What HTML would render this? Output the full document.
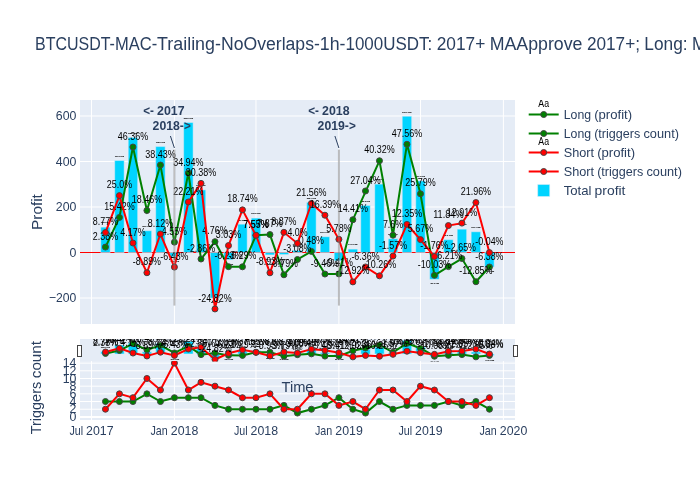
<!DOCTYPE html>
<html lang="en">
<head>
<meta charset="utf-8">
<title>BTCUSDT-MAC-Trailing-NoOverlaps-1h-1000USDT</title>
<style>
html,body{margin:0;padding:0;background:#fff;overflow:hidden}
svg{display:block;font-family:"Liberation Sans",sans-serif}
</style>
</head>
<body>
<svg width="700" height="500" viewBox="0 0 700 500" font-family="'Liberation Sans', sans-serif">
<defs>
<clipPath id="clipfb6a51xyplot">
<rect width="435" height="224"/>
</clipPath>
<clipPath id="clipfb6a51x2y2plot">
<rect width="435" height="58.879"/>
</clipPath>
<clipPath id="clipfb6a51x">
<rect x="80" y="0" width="435" height="500"/>
</clipPath>
<clipPath id="legendfb6a51">
<rect width="164" height="105" x="0" y="0"/>
</clipPath>
<clipPath id="rangesliderx-fb6a51">
<rect x="0" y="0" width="435" height="22.4"/>
</clipPath>
</defs>
<rect x="80" y="100" width="435" height="224" fill="#e5ecf6" stroke-width="0"/>
<rect x="80" y="361.12" width="435" height="58.879" fill="#e5ecf6" stroke-width="0"/>
<path transform="translate(91.49,0)" d="M0,100v224" stroke="#ffffff" stroke-width="1"/>
<path transform="translate(174.41,0)" d="M0,100v224" stroke="#ffffff" stroke-width="1"/>
<path transform="translate(255.98,0)" d="M0,100v224" stroke="#ffffff" stroke-width="1"/>
<path transform="translate(338.9,0)" d="M0,100v224" stroke="#ffffff" stroke-width="1"/>
<path transform="translate(420.47,0)" d="M0,100v224" stroke="#ffffff" stroke-width="1"/>
<path transform="translate(503.4,0)" d="M0,100v224" stroke="#ffffff" stroke-width="1"/>
<path transform="translate(0,298)" d="M80,0h435" stroke="#ffffff" stroke-width="1"/>
<path transform="translate(0,206.99)" d="M80,0h435" stroke="#ffffff" stroke-width="1"/>
<path transform="translate(0,161.49)" d="M80,0h435" stroke="#ffffff" stroke-width="1"/>
<path transform="translate(0,115.99)" d="M80,0h435" stroke="#ffffff" stroke-width="1"/>
<path transform="translate(0,252.5)" d="M80,0h435" stroke="#ff0000" stroke-width="1"/>
<g transform="translate(80,100)" clip-path="url(#clipfb6a51xyplot)">
<path d="M20.73,152.5V127.13H30.19V152.5Z" stroke-width="0.5" fill="#00d4ff" stroke="#e5ecf6"/>
<text x="-28.71" y="0" textLength="30.43" lengthAdjust="spacingAndGlyphs" font-size="12.84" fill="#000000" transform="translate(25.46,123.474)scale(0.163)" stroke="#000" stroke-width="0.5">111.5</text>
<text x="4.77" y="0" textLength="23.94" lengthAdjust="spacingAndGlyphs" font-size="12.84" fill="#000000" transform="translate(25.46,123.474)scale(0.163)" stroke="#000" stroke-width="0.5">USD</text>
<path d="M34.7,152.5V60.54H44.16V152.5Z" stroke-width="0.5" fill="#00d4ff" stroke="#e5ecf6"/>
<text x="-28.71" y="0" textLength="30.43" lengthAdjust="spacingAndGlyphs" font-size="12.84" fill="#000000" transform="translate(39.43,56.884)scale(0.163)" stroke="#000" stroke-width="0.5">404.2</text>
<text x="4.77" y="0" textLength="23.94" lengthAdjust="spacingAndGlyphs" font-size="12.84" fill="#000000" transform="translate(39.43,56.884)scale(0.163)" stroke="#000" stroke-width="0.5">USD</text>
<path d="M48.22,152.5V37.54H57.68V152.5Z" stroke-width="0.5" fill="#00d4ff" stroke="#e5ecf6"/>
<text x="-28.71" y="0" textLength="30.43" lengthAdjust="spacingAndGlyphs" font-size="12.84" fill="#000000" transform="translate(52.95,33.884)scale(0.163)" stroke="#000" stroke-width="0.5">505.3</text>
<text x="4.77" y="0" textLength="23.94" lengthAdjust="spacingAndGlyphs" font-size="12.84" fill="#000000" transform="translate(52.95,33.884)scale(0.163)" stroke="#000" stroke-width="0.5">USD</text>
<path d="M62.19,152.5V130.72H71.66V152.5Z" stroke-width="0.5" fill="#00d4ff" stroke="#e5ecf6"/>
<text x="-25.32" y="0" textLength="23.59" lengthAdjust="spacingAndGlyphs" font-size="12.84" fill="#000000" transform="translate(66.925,126.975)scale(0.186)" stroke="#000" stroke-width="0.5">95.7</text>
<text x="1.3" y="0" textLength="24.01" lengthAdjust="spacingAndGlyphs" font-size="12.84" fill="#000000" transform="translate(66.925,126.975)scale(0.186)" stroke="#000" stroke-width="0.5">USD</text>
<path d="M75.71,152.5V46.59H85.17V152.5Z" stroke-width="0.5" fill="#00d4ff" stroke="#e5ecf6"/>
<text x="-28.71" y="0" textLength="30.43" lengthAdjust="spacingAndGlyphs" font-size="12.84" fill="#000000" transform="translate(80.44,42.934)scale(0.163)" stroke="#000" stroke-width="0.5">465.5</text>
<text x="4.77" y="0" textLength="23.94" lengthAdjust="spacingAndGlyphs" font-size="12.84" fill="#000000" transform="translate(80.44,42.934)scale(0.163)" stroke="#000" stroke-width="0.5">USD</text>
<path d="M89.68,152.5V156.77H99.15V152.5Z" stroke-width="0.5" fill="#00d4ff" stroke="#e5ecf6"/>
<text x="-27.24" y="0" textLength="27.46" lengthAdjust="spacingAndGlyphs" font-size="12.84" fill="#000000" transform="translate(94.415,162.018)scale(0.172)" stroke="#000" stroke-width="0.5">-18.8</text>
<text x="3.21" y="0" textLength="24.03" lengthAdjust="spacingAndGlyphs" font-size="12.84" fill="#000000" transform="translate(94.415,162.018)scale(0.172)" stroke="#000" stroke-width="0.5">USD</text>
<path d="M103.65,152.5V22.48H113.12V152.5Z" stroke-width="0.5" fill="#00d4ff" stroke="#e5ecf6"/>
<text x="-28.68" y="0" textLength="30.4" lengthAdjust="spacingAndGlyphs" font-size="12.84" fill="#000000" transform="translate(108.385,18.824)scale(0.163)" stroke="#000" stroke-width="0.5">571.5</text>
<text x="4.76" y="0" textLength="23.92" lengthAdjust="spacingAndGlyphs" font-size="12.84" fill="#000000" transform="translate(108.385,18.824)scale(0.163)" stroke="#000" stroke-width="0.5">USD</text>
<path d="M116.27,152.5V89.89H125.73V152.5Z" stroke-width="0.5" fill="#00d4ff" stroke="#e5ecf6"/>
<text x="-28.71" y="0" textLength="30.43" lengthAdjust="spacingAndGlyphs" font-size="12.84" fill="#000000" transform="translate(121,86.234)scale(0.163)" stroke="#000" stroke-width="0.5">275.2</text>
<text x="4.77" y="0" textLength="23.94" lengthAdjust="spacingAndGlyphs" font-size="12.84" fill="#000000" transform="translate(121,86.234)scale(0.163)" stroke="#000" stroke-width="0.5">USD</text>
<path d="M130.24,152.5V198.13H139.7V152.5Z" stroke-width="0.5" fill="#00d4ff" stroke="#e5ecf6"/>
<text x="-30.59" y="0" textLength="34.2" lengthAdjust="spacingAndGlyphs" font-size="12.84" fill="#000000" transform="translate(134.97,203.125)scale(0.153)" stroke="#000" stroke-width="0.5">-200.6</text>
<text x="6.67" y="0" textLength="23.92" lengthAdjust="spacingAndGlyphs" font-size="12.84" fill="#000000" transform="translate(134.97,203.125)scale(0.153)" stroke="#000" stroke-width="0.5">USD</text>
<path d="M143.76,152.5V159.78H153.22V152.5Z" stroke-width="0.5" fill="#00d4ff" stroke="#e5ecf6"/>
<text x="-27.26" y="0" textLength="27.49" lengthAdjust="spacingAndGlyphs" font-size="12.84" fill="#000000" transform="translate(148.49,165.026)scale(0.172)" stroke="#000" stroke-width="0.5">-32.0</text>
<text x="3.21" y="0" textLength="24.05" lengthAdjust="spacingAndGlyphs" font-size="12.84" fill="#000000" transform="translate(148.49,165.026)scale(0.172)" stroke="#000" stroke-width="0.5">USD</text>
<path d="M157.73,152.5V124.17H167.2V152.5Z" stroke-width="0.5" fill="#00d4ff" stroke="#e5ecf6"/>
<text x="-28.68" y="0" textLength="30.4" lengthAdjust="spacingAndGlyphs" font-size="12.84" fill="#000000" transform="translate(162.464,120.514)scale(0.163)" stroke="#000" stroke-width="0.5">124.5</text>
<text x="4.76" y="0" textLength="23.92" lengthAdjust="spacingAndGlyphs" font-size="12.84" fill="#000000" transform="translate(162.464,120.514)scale(0.163)" stroke="#000" stroke-width="0.5">USD</text>
<path d="M171.25,152.5V118.1H180.71V152.5Z" stroke-width="0.5" fill="#00d4ff" stroke="#e5ecf6"/>
<text x="-28.71" y="0" textLength="30.43" lengthAdjust="spacingAndGlyphs" font-size="12.84" fill="#000000" transform="translate(175.98,114.444)scale(0.163)" stroke="#000" stroke-width="0.5">151.2</text>
<text x="4.77" y="0" textLength="23.94" lengthAdjust="spacingAndGlyphs" font-size="12.84" fill="#000000" transform="translate(175.98,114.444)scale(0.163)" stroke="#000" stroke-width="0.5">USD</text>
<path d="M185.22,152.5V154.91H194.69V152.5Z" stroke-width="0.5" fill="#00d4ff" stroke="#e5ecf6"/>
<text x="-27.24" y="0" textLength="27.46" lengthAdjust="spacingAndGlyphs" font-size="12.84" fill="#000000" transform="translate(189.954,160.158)scale(0.172)" stroke="#000" stroke-width="0.5">-10.6</text>
<text x="3.21" y="0" textLength="24.03" lengthAdjust="spacingAndGlyphs" font-size="12.84" fill="#000000" transform="translate(189.954,160.158)scale(0.172)" stroke="#000" stroke-width="0.5">USD</text>
<path d="M199.19,152.5V154.59H208.66V152.5Z" stroke-width="0.5" fill="#00d4ff" stroke="#e5ecf6"/>
<text x="-23.82" y="0" textLength="20.62" lengthAdjust="spacingAndGlyphs" font-size="12.84" fill="#000000" transform="translate(203.925,160.16)scale(0.197)" stroke="#000" stroke-width="0.5">-9.2</text>
<text x="-0.12" y="0" textLength="23.94" lengthAdjust="spacingAndGlyphs" font-size="12.84" fill="#000000" transform="translate(203.925,160.16)scale(0.197)" stroke="#000" stroke-width="0.5">USD</text>
<path d="M212.71,152.5V150.4H222.18V152.5Z" stroke-width="0.5" fill="#00d4ff" stroke="#e5ecf6"/>
<text x="-22.01" y="0" textLength="16.93" lengthAdjust="spacingAndGlyphs" font-size="12.84" fill="#000000" transform="translate(217.445,146.539)scale(0.215)" stroke="#000" stroke-width="0.5">9.2</text>
<text x="-2.11" y="0" textLength="24.12" lengthAdjust="spacingAndGlyphs" font-size="12.84" fill="#000000" transform="translate(217.445,146.539)scale(0.215)" stroke="#000" stroke-width="0.5">USD</text>
<path d="M226.68,152.5V102.35H236.15V152.5Z" stroke-width="0.5" fill="#00d4ff" stroke="#e5ecf6"/>
<text x="-28.68" y="0" textLength="30.4" lengthAdjust="spacingAndGlyphs" font-size="12.84" fill="#000000" transform="translate(231.415,98.694)scale(0.163)" stroke="#000" stroke-width="0.5">220.4</text>
<text x="4.76" y="0" textLength="23.92" lengthAdjust="spacingAndGlyphs" font-size="12.84" fill="#000000" transform="translate(231.415,98.694)scale(0.163)" stroke="#000" stroke-width="0.5">USD</text>
<path d="M240.2,152.5V136.73H249.67V152.5Z" stroke-width="0.5" fill="#00d4ff" stroke="#e5ecf6"/>
<text x="-25.32" y="0" textLength="23.59" lengthAdjust="spacingAndGlyphs" font-size="12.84" fill="#000000" transform="translate(244.935,132.985)scale(0.186)" stroke="#000" stroke-width="0.5">69.3</text>
<text x="1.3" y="0" textLength="24.01" lengthAdjust="spacingAndGlyphs" font-size="12.84" fill="#000000" transform="translate(244.935,132.985)scale(0.186)" stroke="#000" stroke-width="0.5">USD</text>
<path d="M254.17,152.5V160.75H263.64V152.5Z" stroke-width="0.5" fill="#00d4ff" stroke="#e5ecf6"/>
<text x="-27.24" y="0" textLength="27.46" lengthAdjust="spacingAndGlyphs" font-size="12.84" fill="#000000" transform="translate(258.905,165.998)scale(0.172)" stroke="#000" stroke-width="0.5">-36.3</text>
<text x="3.21" y="0" textLength="24.03" lengthAdjust="spacingAndGlyphs" font-size="12.84" fill="#000000" transform="translate(258.905,165.998)scale(0.172)" stroke="#000" stroke-width="0.5">USD</text>
<path d="M268.14,152.5V149.11H277.61V152.5Z" stroke-width="0.5" fill="#00d4ff" stroke="#e5ecf6"/>
<text x="-25.32" y="0" textLength="23.59" lengthAdjust="spacingAndGlyphs" font-size="12.84" fill="#000000" transform="translate(272.875,145.365)scale(0.186)" stroke="#000" stroke-width="0.5">14.9</text>
<text x="1.3" y="0" textLength="24.01" lengthAdjust="spacingAndGlyphs" font-size="12.84" fill="#000000" transform="translate(272.875,145.365)scale(0.186)" stroke="#000" stroke-width="0.5">USD</text>
<path d="M280.76,152.5V105.45H290.23V152.5Z" stroke-width="0.5" fill="#00d4ff" stroke="#e5ecf6"/>
<text x="-28.68" y="0" textLength="30.4" lengthAdjust="spacingAndGlyphs" font-size="12.84" fill="#000000" transform="translate(285.495,101.794)scale(0.163)" stroke="#000" stroke-width="0.5">206.8</text>
<text x="4.76" y="0" textLength="23.92" lengthAdjust="spacingAndGlyphs" font-size="12.84" fill="#000000" transform="translate(285.495,101.794)scale(0.163)" stroke="#000" stroke-width="0.5">USD</text>
<path d="M294.73,152.5V84.11H304.2V152.5Z" stroke-width="0.5" fill="#00d4ff" stroke="#e5ecf6"/>
<text x="-28.68" y="0" textLength="30.4" lengthAdjust="spacingAndGlyphs" font-size="12.84" fill="#000000" transform="translate(299.465,80.454)scale(0.163)" stroke="#000" stroke-width="0.5">300.6</text>
<text x="4.76" y="0" textLength="23.92" lengthAdjust="spacingAndGlyphs" font-size="12.84" fill="#000000" transform="translate(299.465,80.454)scale(0.163)" stroke="#000" stroke-width="0.5">USD</text>
<path d="M308.25,152.5V138.78H317.72V152.5Z" stroke-width="0.5" fill="#00d4ff" stroke="#e5ecf6"/>
<text x="-25.32" y="0" textLength="23.59" lengthAdjust="spacingAndGlyphs" font-size="12.84" fill="#000000" transform="translate(312.985,135.035)scale(0.186)" stroke="#000" stroke-width="0.5">60.3</text>
<text x="1.3" y="0" textLength="24.01" lengthAdjust="spacingAndGlyphs" font-size="12.84" fill="#000000" transform="translate(312.985,135.035)scale(0.186)" stroke="#000" stroke-width="0.5">USD</text>
<path d="M322.22,152.5V16.2H331.69V152.5Z" stroke-width="0.5" fill="#00d4ff" stroke="#e5ecf6"/>
<text x="-28.68" y="0" textLength="30.4" lengthAdjust="spacingAndGlyphs" font-size="12.84" fill="#000000" transform="translate(326.955,12.544)scale(0.163)" stroke="#000" stroke-width="0.5">599.1</text>
<text x="4.76" y="0" textLength="23.92" lengthAdjust="spacingAndGlyphs" font-size="12.84" fill="#000000" transform="translate(326.955,12.544)scale(0.163)" stroke="#000" stroke-width="0.5">USD</text>
<path d="M335.74,152.5V80.92H345.21V152.5Z" stroke-width="0.5" fill="#00d4ff" stroke="#e5ecf6"/>
<text x="-28.68" y="0" textLength="30.4" lengthAdjust="spacingAndGlyphs" font-size="12.84" fill="#000000" transform="translate(340.475,77.264)scale(0.163)" stroke="#000" stroke-width="0.5">314.6</text>
<text x="4.76" y="0" textLength="23.92" lengthAdjust="spacingAndGlyphs" font-size="12.84" fill="#000000" transform="translate(340.475,77.264)scale(0.163)" stroke="#000" stroke-width="0.5">USD</text>
<path d="M349.71,152.5V179.32H359.18V152.5Z" stroke-width="0.5" fill="#00d4ff" stroke="#e5ecf6"/>
<text x="-30.55" y="0" textLength="34.16" lengthAdjust="spacingAndGlyphs" font-size="12.84" fill="#000000" transform="translate(354.445,184.317)scale(0.153)" stroke="#000" stroke-width="0.5">-117.9</text>
<text x="6.66" y="0" textLength="23.89" lengthAdjust="spacingAndGlyphs" font-size="12.84" fill="#000000" transform="translate(354.445,184.317)scale(0.153)" stroke="#000" stroke-width="0.5">USD</text>
<path d="M363.68,152.5V139.69H373.15V152.5Z" stroke-width="0.5" fill="#00d4ff" stroke="#e5ecf6"/>
<text x="-25.32" y="0" textLength="23.59" lengthAdjust="spacingAndGlyphs" font-size="12.84" fill="#000000" transform="translate(368.414,135.945)scale(0.186)" stroke="#000" stroke-width="0.5">56.3</text>
<text x="1.3" y="0" textLength="24.01" lengthAdjust="spacingAndGlyphs" font-size="12.84" fill="#000000" transform="translate(368.414,135.945)scale(0.186)" stroke="#000" stroke-width="0.5">USD</text>
<path d="M377.2,152.5V129.15H386.67V152.5Z" stroke-width="0.5" fill="#00d4ff" stroke="#e5ecf6"/>
<text x="-28.68" y="0" textLength="30.4" lengthAdjust="spacingAndGlyphs" font-size="12.84" fill="#000000" transform="translate(381.935,125.494)scale(0.163)" stroke="#000" stroke-width="0.5">102.6</text>
<text x="4.76" y="0" textLength="23.92" lengthAdjust="spacingAndGlyphs" font-size="12.84" fill="#000000" transform="translate(381.935,125.494)scale(0.163)" stroke="#000" stroke-width="0.5">USD</text>
<path d="M391.17,152.5V131.77H400.64V152.5Z" stroke-width="0.5" fill="#00d4ff" stroke="#e5ecf6"/>
<text x="-25.32" y="0" textLength="23.59" lengthAdjust="spacingAndGlyphs" font-size="12.84" fill="#000000" transform="translate(395.905,128.025)scale(0.186)" stroke="#000" stroke-width="0.5">91.1</text>
<text x="1.3" y="0" textLength="24.01" lengthAdjust="spacingAndGlyphs" font-size="12.84" fill="#000000" transform="translate(395.905,128.025)scale(0.186)" stroke="#000" stroke-width="0.5">USD</text>
<path d="M404.69,152.5V167.1H414.16V152.5Z" stroke-width="0.5" fill="#00d4ff" stroke="#e5ecf6"/>
<text x="-27.24" y="0" textLength="27.46" lengthAdjust="spacingAndGlyphs" font-size="12.84" fill="#000000" transform="translate(409.425,172.348)scale(0.172)" stroke="#000" stroke-width="0.5">-64.2</text>
<text x="3.21" y="0" textLength="24.03" lengthAdjust="spacingAndGlyphs" font-size="12.84" fill="#000000" transform="translate(409.425,172.348)scale(0.172)" stroke="#000" stroke-width="0.5">USD</text>
<path d="M25.46,147.08L39.43,117.41L52.95,47.02L66.92,110.5L80.44,65.07L94.41,142.14L108.38,73.01L121,159L134.97,141.67L148.49,166.67L162.46,166.81L175.98,135.32L189.95,134.59L203.92,174.77L217.44,159.5L231.41,151.4L244.93,174.02L258.9,173.9L272.87,119.71L299.46,60.77L312.98,135.21L326.95,44.29L340.47,93.82L354.44,175.31L368.41,166.62L381.93,158.52L395.91,181.73L409.43,167.01" fill="none" stroke="#008000" stroke-width="2"/>
<path transform="translate(25.46,147.08)" d="M3,0A3,3 0 1,1 0,-3A3,3 0 0,1 3,0Z" stroke-width="1" fill="#008000" stroke="#444444"/>
<path transform="translate(39.43,117.41)" d="M3,0A3,3 0 1,1 0,-3A3,3 0 0,1 3,0Z" stroke-width="1" fill="#008000" stroke="#444444"/>
<path transform="translate(52.95,47.02)" d="M3,0A3,3 0 1,1 0,-3A3,3 0 0,1 3,0Z" stroke-width="1" fill="#008000" stroke="#444444"/>
<path transform="translate(66.92,110.5)" d="M3,0A3,3 0 1,1 0,-3A3,3 0 0,1 3,0Z" stroke-width="1" fill="#008000" stroke="#444444"/>
<path transform="translate(80.44,65.07)" d="M3,0A3,3 0 1,1 0,-3A3,3 0 0,1 3,0Z" stroke-width="1" fill="#008000" stroke="#444444"/>
<path transform="translate(94.41,142.14)" d="M3,0A3,3 0 1,1 0,-3A3,3 0 0,1 3,0Z" stroke-width="1" fill="#008000" stroke="#444444"/>
<path transform="translate(108.38,73.01)" d="M3,0A3,3 0 1,1 0,-3A3,3 0 0,1 3,0Z" stroke-width="1" fill="#008000" stroke="#444444"/>
<path transform="translate(121,159)" d="M3,0A3,3 0 1,1 0,-3A3,3 0 0,1 3,0Z" stroke-width="1" fill="#008000" stroke="#444444"/>
<path transform="translate(134.97,141.67)" d="M3,0A3,3 0 1,1 0,-3A3,3 0 0,1 3,0Z" stroke-width="1" fill="#008000" stroke="#444444"/>
<path transform="translate(148.49,166.67)" d="M3,0A3,3 0 1,1 0,-3A3,3 0 0,1 3,0Z" stroke-width="1" fill="#008000" stroke="#444444"/>
<path transform="translate(162.46,166.81)" d="M3,0A3,3 0 1,1 0,-3A3,3 0 0,1 3,0Z" stroke-width="1" fill="#008000" stroke="#444444"/>
<path transform="translate(175.98,135.32)" d="M3,0A3,3 0 1,1 0,-3A3,3 0 0,1 3,0Z" stroke-width="1" fill="#008000" stroke="#444444"/>
<path transform="translate(189.95,134.59)" d="M3,0A3,3 0 1,1 0,-3A3,3 0 0,1 3,0Z" stroke-width="1" fill="#008000" stroke="#444444"/>
<path transform="translate(203.92,174.77)" d="M3,0A3,3 0 1,1 0,-3A3,3 0 0,1 3,0Z" stroke-width="1" fill="#008000" stroke="#444444"/>
<path transform="translate(217.44,159.5)" d="M3,0A3,3 0 1,1 0,-3A3,3 0 0,1 3,0Z" stroke-width="1" fill="#008000" stroke="#444444"/>
<path transform="translate(231.41,151.4)" d="M3,0A3,3 0 1,1 0,-3A3,3 0 0,1 3,0Z" stroke-width="1" fill="#008000" stroke="#444444"/>
<path transform="translate(244.93,174.02)" d="M3,0A3,3 0 1,1 0,-3A3,3 0 0,1 3,0Z" stroke-width="1" fill="#008000" stroke="#444444"/>
<path transform="translate(258.9,173.9)" d="M3,0A3,3 0 1,1 0,-3A3,3 0 0,1 3,0Z" stroke-width="1" fill="#008000" stroke="#444444"/>
<path transform="translate(272.87,119.71)" d="M3,0A3,3 0 1,1 0,-3A3,3 0 0,1 3,0Z" stroke-width="1" fill="#008000" stroke="#444444"/>
<path transform="translate(285.49,90.98)" d="M3,0A3,3 0 1,1 0,-3A3,3 0 0,1 3,0Z" stroke-width="1" fill="#008000" stroke="#444444"/>
<path transform="translate(299.46,60.77)" d="M3,0A3,3 0 1,1 0,-3A3,3 0 0,1 3,0Z" stroke-width="1" fill="#008000" stroke="#444444"/>
<path transform="translate(312.98,135.21)" d="M3,0A3,3 0 1,1 0,-3A3,3 0 0,1 3,0Z" stroke-width="1" fill="#008000" stroke="#444444"/>
<path transform="translate(326.95,44.29)" d="M3,0A3,3 0 1,1 0,-3A3,3 0 0,1 3,0Z" stroke-width="1" fill="#008000" stroke="#444444"/>
<path transform="translate(340.47,93.82)" d="M3,0A3,3 0 1,1 0,-3A3,3 0 0,1 3,0Z" stroke-width="1" fill="#008000" stroke="#444444"/>
<path transform="translate(354.44,175.31)" d="M3,0A3,3 0 1,1 0,-3A3,3 0 0,1 3,0Z" stroke-width="1" fill="#008000" stroke="#444444"/>
<path transform="translate(368.41,166.62)" d="M3,0A3,3 0 1,1 0,-3A3,3 0 0,1 3,0Z" stroke-width="1" fill="#008000" stroke="#444444"/>
<path transform="translate(381.93,158.52)" d="M3,0A3,3 0 1,1 0,-3A3,3 0 0,1 3,0Z" stroke-width="1" fill="#008000" stroke="#444444"/>
<path transform="translate(395.91,181.73)" d="M3,0A3,3 0 1,1 0,-3A3,3 0 0,1 3,0Z" stroke-width="1" fill="#008000" stroke="#444444"/>
<path transform="translate(409.43,167.01)" d="M3,0A3,3 0 1,1 0,-3A3,3 0 0,1 3,0Z" stroke-width="1" fill="#008000" stroke="#444444"/>
<g transform="translate(0,-7)">
<text x="12.83" y="147" textLength="25.25" lengthAdjust="spacingAndGlyphs" font-size="9.99" fill="#000000">2.38%</text>
</g>
<g transform="translate(0,-7)">
<text x="24.23" y="117" textLength="30.39" lengthAdjust="spacingAndGlyphs" font-size="9.99" fill="#000000">15.42%</text>
</g>
<g transform="translate(0,-7)">
<text x="37.75" y="47" textLength="30.39" lengthAdjust="spacingAndGlyphs" font-size="9.99" fill="#000000">46.36%</text>
</g>
<g transform="translate(0,-7)">
<text x="51.72" y="110" textLength="30.39" lengthAdjust="spacingAndGlyphs" font-size="9.99" fill="#000000">18.46%</text>
</g>
<g transform="translate(0,-7)">
<text x="65.24" y="65" textLength="30.39" lengthAdjust="spacingAndGlyphs" font-size="9.99" fill="#000000">38.43%</text>
</g>
<g transform="translate(0,-7)">
<text x="81.79" y="142" textLength="25.25" lengthAdjust="spacingAndGlyphs" font-size="9.99" fill="#000000">4.55%</text>
</g>
<g transform="translate(0,-7)">
<text x="93.18" y="73" textLength="30.39" lengthAdjust="spacingAndGlyphs" font-size="9.99" fill="#000000">34.94%</text>
</g>
<g transform="translate(0,-7)">
<text x="106.93" y="159" textLength="28.14" lengthAdjust="spacingAndGlyphs" font-size="9.99" fill="#000000">-2.86%</text>
</g>
<g transform="translate(0,-7)">
<text x="122.35" y="141" textLength="25.25" lengthAdjust="spacingAndGlyphs" font-size="9.99" fill="#000000">4.76%</text>
</g>
<g transform="translate(0,-7)">
<text x="134.42" y="166" textLength="28.14" lengthAdjust="spacingAndGlyphs" font-size="9.99" fill="#000000">-6.23%</text>
</g>
<g transform="translate(0,-7)">
<text x="148.39" y="166" textLength="28.14" lengthAdjust="spacingAndGlyphs" font-size="9.99" fill="#000000">-6.29%</text>
</g>
<g transform="translate(0,-7)">
<text x="163.35" y="135" textLength="25.25" lengthAdjust="spacingAndGlyphs" font-size="9.99" fill="#000000">7.55%</text>
</g>
<g transform="translate(0,-7)">
<text x="177.32" y="134" textLength="25.25" lengthAdjust="spacingAndGlyphs" font-size="9.99" fill="#000000">7.87%</text>
</g>
<g transform="translate(0,-7)">
<text x="189.85" y="174" textLength="28.14" lengthAdjust="spacingAndGlyphs" font-size="9.99" fill="#000000">-9.79%</text>
</g>
<g transform="translate(0,-7)">
<text x="203.37" y="159" textLength="28.14" lengthAdjust="spacingAndGlyphs" font-size="9.99" fill="#000000">-3.08%</text>
</g>
<g transform="translate(0,-7)">
<text x="218.79" y="151" textLength="25.25" lengthAdjust="spacingAndGlyphs" font-size="9.99" fill="#000000">0.48%</text>
</g>
<g transform="translate(0,-7)">
<text x="230.86" y="174" textLength="28.14" lengthAdjust="spacingAndGlyphs" font-size="9.99" fill="#000000">-9.46%</text>
</g>
<g transform="translate(0,-7)">
<text x="244.83" y="173" textLength="28.14" lengthAdjust="spacingAndGlyphs" font-size="9.99" fill="#000000">-9.41%</text>
</g>
<g transform="translate(0,-7)">
<text x="257.67" y="119" textLength="30.39" lengthAdjust="spacingAndGlyphs" font-size="9.99" fill="#000000">14.41%</text>
</g>
<g transform="translate(0,-7)">
<text x="270.29" y="91" textLength="30.39" lengthAdjust="spacingAndGlyphs" font-size="9.99" fill="#000000">27.04%</text>
</g>
<g transform="translate(0,-7)">
<text x="284.26" y="60" textLength="30.39" lengthAdjust="spacingAndGlyphs" font-size="9.99" fill="#000000">40.32%</text>
</g>
<g transform="translate(0,-7)">
<text x="302.93" y="135" textLength="20.11" lengthAdjust="spacingAndGlyphs" font-size="9.99" fill="#000000">7.6%</text>
</g>
<g transform="translate(0,-7)">
<text x="311.75" y="44" textLength="30.39" lengthAdjust="spacingAndGlyphs" font-size="9.99" fill="#000000">47.56%</text>
</g>
<g transform="translate(0,-7)">
<text x="325.27" y="93" textLength="30.39" lengthAdjust="spacingAndGlyphs" font-size="9.99" fill="#000000">25.79%</text>
</g>
<g transform="translate(0,-7)">
<text x="337.79" y="175" textLength="33.3" lengthAdjust="spacingAndGlyphs" font-size="9.99" fill="#000000">-10.03%</text>
</g>
<g transform="translate(0,-7)">
<text x="354.34" y="166" textLength="28.14" lengthAdjust="spacingAndGlyphs" font-size="9.99" fill="#000000">-6.21%</text>
</g>
<g transform="translate(0,-7)">
<text x="367.86" y="158" textLength="28.14" lengthAdjust="spacingAndGlyphs" font-size="9.99" fill="#000000">-2.65%</text>
</g>
<g transform="translate(0,-7)">
<text x="379.26" y="181" textLength="33.3" lengthAdjust="spacingAndGlyphs" font-size="9.99" fill="#000000">-12.85%</text>
</g>
<g transform="translate(0,-7)">
<text x="395.36" y="167" textLength="28.14" lengthAdjust="spacingAndGlyphs" font-size="9.99" fill="#000000">-6.38%</text>
</g>
<path d="M25.46,132.54L39.43,95.62L52.95,143.01L66.92,172.72L80.44,134.02L94.41,167.12L108.38,101.97L121,83.38L134.97,208.96L148.49,145.6L162.46,109.86L175.98,135.27L189.95,172.81L203.92,132.32L217.44,143.4L231.41,103.45L244.93,115.21L258.9,139.35L272.87,181.89L285.49,166.96L299.46,175.84L312.98,156.07L326.95,124.4L340.47,139.6L354.44,156.5L368.41,125.56L381.93,123.12L395.91,102.54L409.43,152.59" fill="none" stroke="#ff0000" stroke-width="2"/>
<path transform="translate(25.46,132.54)" d="M3,0A3,3 0 1,1 0,-3A3,3 0 0,1 3,0Z" stroke-width="1" fill="#ff0000" stroke="#444444"/>
<path transform="translate(39.43,95.62)" d="M3,0A3,3 0 1,1 0,-3A3,3 0 0,1 3,0Z" stroke-width="1" fill="#ff0000" stroke="#444444"/>
<path transform="translate(52.95,143.01)" d="M3,0A3,3 0 1,1 0,-3A3,3 0 0,1 3,0Z" stroke-width="1" fill="#ff0000" stroke="#444444"/>
<path transform="translate(66.92,172.72)" d="M3,0A3,3 0 1,1 0,-3A3,3 0 0,1 3,0Z" stroke-width="1" fill="#ff0000" stroke="#444444"/>
<path transform="translate(80.44,134.02)" d="M3,0A3,3 0 1,1 0,-3A3,3 0 0,1 3,0Z" stroke-width="1" fill="#ff0000" stroke="#444444"/>
<path transform="translate(94.41,167.12)" d="M3,0A3,3 0 1,1 0,-3A3,3 0 0,1 3,0Z" stroke-width="1" fill="#ff0000" stroke="#444444"/>
<path transform="translate(108.38,101.97)" d="M3,0A3,3 0 1,1 0,-3A3,3 0 0,1 3,0Z" stroke-width="1" fill="#ff0000" stroke="#444444"/>
<path transform="translate(121,83.38)" d="M3,0A3,3 0 1,1 0,-3A3,3 0 0,1 3,0Z" stroke-width="1" fill="#ff0000" stroke="#444444"/>
<path transform="translate(134.97,208.96)" d="M3,0A3,3 0 1,1 0,-3A3,3 0 0,1 3,0Z" stroke-width="1" fill="#ff0000" stroke="#444444"/>
<path transform="translate(148.49,145.6)" d="M3,0A3,3 0 1,1 0,-3A3,3 0 0,1 3,0Z" stroke-width="1" fill="#ff0000" stroke="#444444"/>
<path transform="translate(162.46,109.86)" d="M3,0A3,3 0 1,1 0,-3A3,3 0 0,1 3,0Z" stroke-width="1" fill="#ff0000" stroke="#444444"/>
<path transform="translate(175.98,135.27)" d="M3,0A3,3 0 1,1 0,-3A3,3 0 0,1 3,0Z" stroke-width="1" fill="#ff0000" stroke="#444444"/>
<path transform="translate(189.95,172.81)" d="M3,0A3,3 0 1,1 0,-3A3,3 0 0,1 3,0Z" stroke-width="1" fill="#ff0000" stroke="#444444"/>
<path transform="translate(203.92,132.32)" d="M3,0A3,3 0 1,1 0,-3A3,3 0 0,1 3,0Z" stroke-width="1" fill="#ff0000" stroke="#444444"/>
<path transform="translate(217.44,143.4)" d="M3,0A3,3 0 1,1 0,-3A3,3 0 0,1 3,0Z" stroke-width="1" fill="#ff0000" stroke="#444444"/>
<path transform="translate(231.41,103.45)" d="M3,0A3,3 0 1,1 0,-3A3,3 0 0,1 3,0Z" stroke-width="1" fill="#ff0000" stroke="#444444"/>
<path transform="translate(244.93,115.21)" d="M3,0A3,3 0 1,1 0,-3A3,3 0 0,1 3,0Z" stroke-width="1" fill="#ff0000" stroke="#444444"/>
<path transform="translate(258.9,139.35)" d="M3,0A3,3 0 1,1 0,-3A3,3 0 0,1 3,0Z" stroke-width="1" fill="#ff0000" stroke="#444444"/>
<path transform="translate(272.87,181.89)" d="M3,0A3,3 0 1,1 0,-3A3,3 0 0,1 3,0Z" stroke-width="1" fill="#ff0000" stroke="#444444"/>
<path transform="translate(285.49,166.96)" d="M3,0A3,3 0 1,1 0,-3A3,3 0 0,1 3,0Z" stroke-width="1" fill="#ff0000" stroke="#444444"/>
<path transform="translate(299.46,175.84)" d="M3,0A3,3 0 1,1 0,-3A3,3 0 0,1 3,0Z" stroke-width="1" fill="#ff0000" stroke="#444444"/>
<path transform="translate(312.98,156.07)" d="M3,0A3,3 0 1,1 0,-3A3,3 0 0,1 3,0Z" stroke-width="1" fill="#ff0000" stroke="#444444"/>
<path transform="translate(326.95,124.4)" d="M3,0A3,3 0 1,1 0,-3A3,3 0 0,1 3,0Z" stroke-width="1" fill="#ff0000" stroke="#444444"/>
<path transform="translate(340.47,139.6)" d="M3,0A3,3 0 1,1 0,-3A3,3 0 0,1 3,0Z" stroke-width="1" fill="#ff0000" stroke="#444444"/>
<path transform="translate(354.44,156.5)" d="M3,0A3,3 0 1,1 0,-3A3,3 0 0,1 3,0Z" stroke-width="1" fill="#ff0000" stroke="#444444"/>
<path transform="translate(368.41,125.56)" d="M3,0A3,3 0 1,1 0,-3A3,3 0 0,1 3,0Z" stroke-width="1" fill="#ff0000" stroke="#444444"/>
<path transform="translate(381.93,123.12)" d="M3,0A3,3 0 1,1 0,-3A3,3 0 0,1 3,0Z" stroke-width="1" fill="#ff0000" stroke="#444444"/>
<path transform="translate(395.91,102.54)" d="M3,0A3,3 0 1,1 0,-3A3,3 0 0,1 3,0Z" stroke-width="1" fill="#ff0000" stroke="#444444"/>
<path transform="translate(409.43,152.59)" d="M3,0A3,3 0 1,1 0,-3A3,3 0 0,1 3,0Z" stroke-width="1" fill="#ff0000" stroke="#444444"/>
<g transform="translate(0,-7)">
<text x="12.83" y="132" textLength="25.25" lengthAdjust="spacingAndGlyphs" font-size="9.99" fill="#000000">8.77%</text>
</g>
<g transform="translate(0,-7)">
<text x="26.81" y="95" textLength="25.25" lengthAdjust="spacingAndGlyphs" font-size="9.99" fill="#000000">25.0%</text>
</g>
<g transform="translate(0,-7)">
<text x="40.33" y="143" textLength="25.25" lengthAdjust="spacingAndGlyphs" font-size="9.99" fill="#000000">4.17%</text>
</g>
<g transform="translate(0,-7)">
<text x="52.85" y="172" textLength="28.14" lengthAdjust="spacingAndGlyphs" font-size="9.99" fill="#000000">-8.89%</text>
</g>
<g transform="translate(0,-7)">
<text x="67.82" y="134" textLength="25.25" lengthAdjust="spacingAndGlyphs" font-size="9.99" fill="#000000">8.12%</text>
</g>
<g transform="translate(0,-7)">
<text x="80.34" y="167" textLength="28.14" lengthAdjust="spacingAndGlyphs" font-size="9.99" fill="#000000">-6.43%</text>
</g>
<g transform="translate(0,-7)">
<text x="93.18" y="102" textLength="30.39" lengthAdjust="spacingAndGlyphs" font-size="9.99" fill="#000000">22.21%</text>
</g>
<g transform="translate(0,-7)">
<text x="105.8" y="83" textLength="30.39" lengthAdjust="spacingAndGlyphs" font-size="9.99" fill="#000000">30.38%</text>
</g>
<g transform="translate(0,-7)">
<text x="118.32" y="209" textLength="33.3" lengthAdjust="spacingAndGlyphs" font-size="9.99" fill="#000000">-24.82%</text>
</g>
<g transform="translate(0,-7)">
<text x="135.87" y="145" textLength="25.25" lengthAdjust="spacingAndGlyphs" font-size="9.99" fill="#000000">3.03%</text>
</g>
<g transform="translate(0,-7)">
<text x="147.26" y="109" textLength="30.39" lengthAdjust="spacingAndGlyphs" font-size="9.99" fill="#000000">18.74%</text>
</g>
<g transform="translate(0,-7)">
<text x="163.35" y="135" textLength="25.25" lengthAdjust="spacingAndGlyphs" font-size="9.99" fill="#000000">7.57%</text>
</g>
<g transform="translate(0,-7)">
<text x="175.88" y="172" textLength="28.14" lengthAdjust="spacingAndGlyphs" font-size="9.99" fill="#000000">-8.93%</text>
</g>
<g transform="translate(0,-7)">
<text x="191.29" y="132" textLength="25.25" lengthAdjust="spacingAndGlyphs" font-size="9.99" fill="#000000">8.87%</text>
</g>
<g transform="translate(0,-7)">
<text x="207.39" y="143" textLength="20.11" lengthAdjust="spacingAndGlyphs" font-size="9.99" fill="#000000">4.0%</text>
</g>
<g transform="translate(0,-7)">
<text x="216.21" y="103" textLength="30.39" lengthAdjust="spacingAndGlyphs" font-size="9.99" fill="#000000">21.56%</text>
</g>
<g transform="translate(0,-7)">
<text x="229.73" y="115" textLength="30.39" lengthAdjust="spacingAndGlyphs" font-size="9.99" fill="#000000">16.39%</text>
</g>
<g transform="translate(0,-7)">
<text x="246.27" y="139" textLength="25.25" lengthAdjust="spacingAndGlyphs" font-size="9.99" fill="#000000">5.78%</text>
</g>
<g transform="translate(0,-7)">
<text x="256.22" y="181" textLength="33.3" lengthAdjust="spacingAndGlyphs" font-size="9.99" fill="#000000">-12.92%</text>
</g>
<g transform="translate(0,-7)">
<text x="271.42" y="167" textLength="28.14" lengthAdjust="spacingAndGlyphs" font-size="9.99" fill="#000000">-6.36%</text>
</g>
<g transform="translate(0,-7)">
<text x="282.81" y="175" textLength="33.3" lengthAdjust="spacingAndGlyphs" font-size="9.99" fill="#000000">-10.26%</text>
</g>
<g transform="translate(0,-7)">
<text x="298.91" y="156" textLength="28.14" lengthAdjust="spacingAndGlyphs" font-size="9.99" fill="#000000">-1.57%</text>
</g>
<g transform="translate(0,-7)">
<text x="311.75" y="124" textLength="30.39" lengthAdjust="spacingAndGlyphs" font-size="9.99" fill="#000000">12.35%</text>
</g>
<g transform="translate(0,-7)">
<text x="327.85" y="139" textLength="25.25" lengthAdjust="spacingAndGlyphs" font-size="9.99" fill="#000000">5.67%</text>
</g>
<g transform="translate(0,-7)">
<text x="340.37" y="156" textLength="28.14" lengthAdjust="spacingAndGlyphs" font-size="9.99" fill="#000000">-1.76%</text>
</g>
<g transform="translate(0,-7)">
<text x="353.21" y="125" textLength="30.39" lengthAdjust="spacingAndGlyphs" font-size="9.99" fill="#000000">11.84%</text>
</g>
<g transform="translate(0,-7)">
<text x="366.73" y="123" textLength="30.39" lengthAdjust="spacingAndGlyphs" font-size="9.99" fill="#000000">12.91%</text>
</g>
<g transform="translate(0,-7)">
<text x="380.71" y="102" textLength="30.39" lengthAdjust="spacingAndGlyphs" font-size="9.99" fill="#000000">21.96%</text>
</g>
<g transform="translate(0,-7)">
<text x="395.36" y="152" textLength="28.14" lengthAdjust="spacingAndGlyphs" font-size="9.99" fill="#000000">-0.04%</text>
</g>
</g>
<path d="M0,0" fill="none"/>
<path d="M0,0" fill="none"/>
<text x="48.95" y="4.2" textLength="27.45" lengthAdjust="spacingAndGlyphs" font-size="12.84" fill="#2a3f5f" transform="translate(0,298)">−200</text>
<text x="69.53" y="4.2" textLength="6.88" lengthAdjust="spacingAndGlyphs" font-size="12.84" fill="#2a3f5f" transform="translate(0,252.5)">0</text>
<text x="55.81" y="4.2" textLength="20.59" lengthAdjust="spacingAndGlyphs" font-size="12.84" fill="#2a3f5f" transform="translate(0,206.99)">200</text>
<text x="55.81" y="4.2" textLength="20.59" lengthAdjust="spacingAndGlyphs" font-size="12.84" fill="#2a3f5f" transform="translate(0,161.49)">400</text>
<text x="55.81" y="4.2" textLength="20.59" lengthAdjust="spacingAndGlyphs" font-size="12.84" fill="#2a3f5f" transform="translate(0,115.99)">600</text>
<path transform="translate(91.49,0)" d="M0,361.12v58.879" stroke="#ffffff" stroke-width="1"/>
<path transform="translate(174.41,0)" d="M0,361.12v58.879" stroke="#ffffff" stroke-width="1"/>
<path transform="translate(255.98,0)" d="M0,361.12v58.879" stroke="#ffffff" stroke-width="1"/>
<path transform="translate(338.9,0)" d="M0,361.12v58.879" stroke="#ffffff" stroke-width="1"/>
<path transform="translate(420.47,0)" d="M0,361.12v58.879" stroke="#ffffff" stroke-width="1"/>
<path transform="translate(503.4,0)" d="M0,361.12v58.879" stroke="#ffffff" stroke-width="1"/>
<path transform="translate(0,409.22)" d="M80,0h435" stroke="#ffffff" stroke-width="1"/>
<path transform="translate(0,401.53)" d="M80,0h435" stroke="#ffffff" stroke-width="1"/>
<path transform="translate(0,393.85)" d="M80,0h435" stroke="#ffffff" stroke-width="1"/>
<path transform="translate(0,386.17)" d="M80,0h435" stroke="#ffffff" stroke-width="1"/>
<path transform="translate(0,378.48)" d="M80,0h435" stroke="#ffffff" stroke-width="1"/>
<path transform="translate(0,370.8)" d="M80,0h435" stroke="#ffffff" stroke-width="1"/>
<path transform="translate(0,363.12)" d="M80,0h435" stroke="#ffffff" stroke-width="1"/>
<path transform="translate(0,416.9)" d="M80,0h435" stroke="#ffffff" stroke-width="2"/>
<g transform="translate(80,361.12)" clip-path="url(#clipfb6a51x2y2plot)">
<path d="M25.46,40.41L52.95,40.41L66.92,32.73L80.44,40.41L94.41,36.57L121,36.57L134.97,44.26L148.49,48.1L162.46,48.1L189.95,48.1L203.92,44.26L217.44,51.94L231.41,48.1L244.93,44.26L258.9,36.57L272.87,48.1L285.49,51.94L299.46,40.41L312.98,48.1L326.95,44.26L340.47,44.26L354.44,44.26L368.41,40.41L381.93,44.26L395.91,40.41L409.43,48.1" fill="none" stroke="#008000" stroke-width="2"/>
<path transform="translate(25.46,40.41)" d="M3,0A3,3 0 1,1 0,-3A3,3 0 0,1 3,0Z" stroke-width="1" fill="#008000" stroke="#444444"/>
<path transform="translate(39.43,40.41)" d="M3,0A3,3 0 1,1 0,-3A3,3 0 0,1 3,0Z" stroke-width="1" fill="#008000" stroke="#444444"/>
<path transform="translate(52.95,40.41)" d="M3,0A3,3 0 1,1 0,-3A3,3 0 0,1 3,0Z" stroke-width="1" fill="#008000" stroke="#444444"/>
<path transform="translate(66.92,32.73)" d="M3,0A3,3 0 1,1 0,-3A3,3 0 0,1 3,0Z" stroke-width="1" fill="#008000" stroke="#444444"/>
<path transform="translate(80.44,40.41)" d="M3,0A3,3 0 1,1 0,-3A3,3 0 0,1 3,0Z" stroke-width="1" fill="#008000" stroke="#444444"/>
<path transform="translate(94.41,36.57)" d="M3,0A3,3 0 1,1 0,-3A3,3 0 0,1 3,0Z" stroke-width="1" fill="#008000" stroke="#444444"/>
<path transform="translate(108.38,36.57)" d="M3,0A3,3 0 1,1 0,-3A3,3 0 0,1 3,0Z" stroke-width="1" fill="#008000" stroke="#444444"/>
<path transform="translate(121,36.57)" d="M3,0A3,3 0 1,1 0,-3A3,3 0 0,1 3,0Z" stroke-width="1" fill="#008000" stroke="#444444"/>
<path transform="translate(134.97,44.26)" d="M3,0A3,3 0 1,1 0,-3A3,3 0 0,1 3,0Z" stroke-width="1" fill="#008000" stroke="#444444"/>
<path transform="translate(148.49,48.1)" d="M3,0A3,3 0 1,1 0,-3A3,3 0 0,1 3,0Z" stroke-width="1" fill="#008000" stroke="#444444"/>
<path transform="translate(162.46,48.1)" d="M3,0A3,3 0 1,1 0,-3A3,3 0 0,1 3,0Z" stroke-width="1" fill="#008000" stroke="#444444"/>
<path transform="translate(175.98,48.1)" d="M3,0A3,3 0 1,1 0,-3A3,3 0 0,1 3,0Z" stroke-width="1" fill="#008000" stroke="#444444"/>
<path transform="translate(189.95,48.1)" d="M3,0A3,3 0 1,1 0,-3A3,3 0 0,1 3,0Z" stroke-width="1" fill="#008000" stroke="#444444"/>
<path transform="translate(203.92,44.26)" d="M3,0A3,3 0 1,1 0,-3A3,3 0 0,1 3,0Z" stroke-width="1" fill="#008000" stroke="#444444"/>
<path transform="translate(217.44,51.94)" d="M3,0A3,3 0 1,1 0,-3A3,3 0 0,1 3,0Z" stroke-width="1" fill="#008000" stroke="#444444"/>
<path transform="translate(231.41,48.1)" d="M3,0A3,3 0 1,1 0,-3A3,3 0 0,1 3,0Z" stroke-width="1" fill="#008000" stroke="#444444"/>
<path transform="translate(244.93,44.26)" d="M3,0A3,3 0 1,1 0,-3A3,3 0 0,1 3,0Z" stroke-width="1" fill="#008000" stroke="#444444"/>
<path transform="translate(258.9,36.57)" d="M3,0A3,3 0 1,1 0,-3A3,3 0 0,1 3,0Z" stroke-width="1" fill="#008000" stroke="#444444"/>
<path transform="translate(272.87,48.1)" d="M3,0A3,3 0 1,1 0,-3A3,3 0 0,1 3,0Z" stroke-width="1" fill="#008000" stroke="#444444"/>
<path transform="translate(285.49,51.94)" d="M3,0A3,3 0 1,1 0,-3A3,3 0 0,1 3,0Z" stroke-width="1" fill="#008000" stroke="#444444"/>
<path transform="translate(299.46,40.41)" d="M3,0A3,3 0 1,1 0,-3A3,3 0 0,1 3,0Z" stroke-width="1" fill="#008000" stroke="#444444"/>
<path transform="translate(312.98,48.1)" d="M3,0A3,3 0 1,1 0,-3A3,3 0 0,1 3,0Z" stroke-width="1" fill="#008000" stroke="#444444"/>
<path transform="translate(326.95,44.26)" d="M3,0A3,3 0 1,1 0,-3A3,3 0 0,1 3,0Z" stroke-width="1" fill="#008000" stroke="#444444"/>
<path transform="translate(340.47,44.26)" d="M3,0A3,3 0 1,1 0,-3A3,3 0 0,1 3,0Z" stroke-width="1" fill="#008000" stroke="#444444"/>
<path transform="translate(354.44,44.26)" d="M3,0A3,3 0 1,1 0,-3A3,3 0 0,1 3,0Z" stroke-width="1" fill="#008000" stroke="#444444"/>
<path transform="translate(368.41,40.41)" d="M3,0A3,3 0 1,1 0,-3A3,3 0 0,1 3,0Z" stroke-width="1" fill="#008000" stroke="#444444"/>
<path transform="translate(381.93,44.26)" d="M3,0A3,3 0 1,1 0,-3A3,3 0 0,1 3,0Z" stroke-width="1" fill="#008000" stroke="#444444"/>
<path transform="translate(395.91,40.41)" d="M3,0A3,3 0 1,1 0,-3A3,3 0 0,1 3,0Z" stroke-width="1" fill="#008000" stroke="#444444"/>
<path transform="translate(409.43,48.1)" d="M3,0A3,3 0 1,1 0,-3A3,3 0 0,1 3,0Z" stroke-width="1" fill="#008000" stroke="#444444"/>
<path d="M25.46,48.1L39.43,32.73L52.95,36.57L66.92,17.36L80.44,28.89L94.41,2L108.38,28.89L121,21.21L134.97,25.05L148.49,28.89L162.46,36.57L175.98,36.57L189.95,32.73L203.92,48.1L217.44,48.1L231.41,32.73L244.93,32.73L258.9,44.26L272.87,40.41L285.49,48.1L299.46,28.89L312.98,28.89L326.95,40.41L340.47,25.05L354.44,28.89L368.41,40.41L381.93,40.41L395.91,44.26L409.43,36.57" fill="none" stroke="#ff0000" stroke-width="2"/>
<path transform="translate(25.46,48.1)" d="M3,0A3,3 0 1,1 0,-3A3,3 0 0,1 3,0Z" stroke-width="1" fill="#ff0000" stroke="#444444"/>
<path transform="translate(39.43,32.73)" d="M3,0A3,3 0 1,1 0,-3A3,3 0 0,1 3,0Z" stroke-width="1" fill="#ff0000" stroke="#444444"/>
<path transform="translate(52.95,36.57)" d="M3,0A3,3 0 1,1 0,-3A3,3 0 0,1 3,0Z" stroke-width="1" fill="#ff0000" stroke="#444444"/>
<path transform="translate(66.92,17.36)" d="M3,0A3,3 0 1,1 0,-3A3,3 0 0,1 3,0Z" stroke-width="1" fill="#ff0000" stroke="#444444"/>
<path transform="translate(80.44,28.89)" d="M3,0A3,3 0 1,1 0,-3A3,3 0 0,1 3,0Z" stroke-width="1" fill="#ff0000" stroke="#444444"/>
<path transform="translate(94.41,2)" d="M3,0A3,3 0 1,1 0,-3A3,3 0 0,1 3,0Z" stroke-width="1" fill="#ff0000" stroke="#444444"/>
<path transform="translate(108.38,28.89)" d="M3,0A3,3 0 1,1 0,-3A3,3 0 0,1 3,0Z" stroke-width="1" fill="#ff0000" stroke="#444444"/>
<path transform="translate(121,21.21)" d="M3,0A3,3 0 1,1 0,-3A3,3 0 0,1 3,0Z" stroke-width="1" fill="#ff0000" stroke="#444444"/>
<path transform="translate(134.97,25.05)" d="M3,0A3,3 0 1,1 0,-3A3,3 0 0,1 3,0Z" stroke-width="1" fill="#ff0000" stroke="#444444"/>
<path transform="translate(148.49,28.89)" d="M3,0A3,3 0 1,1 0,-3A3,3 0 0,1 3,0Z" stroke-width="1" fill="#ff0000" stroke="#444444"/>
<path transform="translate(162.46,36.57)" d="M3,0A3,3 0 1,1 0,-3A3,3 0 0,1 3,0Z" stroke-width="1" fill="#ff0000" stroke="#444444"/>
<path transform="translate(175.98,36.57)" d="M3,0A3,3 0 1,1 0,-3A3,3 0 0,1 3,0Z" stroke-width="1" fill="#ff0000" stroke="#444444"/>
<path transform="translate(189.95,32.73)" d="M3,0A3,3 0 1,1 0,-3A3,3 0 0,1 3,0Z" stroke-width="1" fill="#ff0000" stroke="#444444"/>
<path transform="translate(203.92,48.1)" d="M3,0A3,3 0 1,1 0,-3A3,3 0 0,1 3,0Z" stroke-width="1" fill="#ff0000" stroke="#444444"/>
<path transform="translate(217.44,48.1)" d="M3,0A3,3 0 1,1 0,-3A3,3 0 0,1 3,0Z" stroke-width="1" fill="#ff0000" stroke="#444444"/>
<path transform="translate(231.41,32.73)" d="M3,0A3,3 0 1,1 0,-3A3,3 0 0,1 3,0Z" stroke-width="1" fill="#ff0000" stroke="#444444"/>
<path transform="translate(244.93,32.73)" d="M3,0A3,3 0 1,1 0,-3A3,3 0 0,1 3,0Z" stroke-width="1" fill="#ff0000" stroke="#444444"/>
<path transform="translate(258.9,44.26)" d="M3,0A3,3 0 1,1 0,-3A3,3 0 0,1 3,0Z" stroke-width="1" fill="#ff0000" stroke="#444444"/>
<path transform="translate(272.87,40.41)" d="M3,0A3,3 0 1,1 0,-3A3,3 0 0,1 3,0Z" stroke-width="1" fill="#ff0000" stroke="#444444"/>
<path transform="translate(285.49,48.1)" d="M3,0A3,3 0 1,1 0,-3A3,3 0 0,1 3,0Z" stroke-width="1" fill="#ff0000" stroke="#444444"/>
<path transform="translate(299.46,28.89)" d="M3,0A3,3 0 1,1 0,-3A3,3 0 0,1 3,0Z" stroke-width="1" fill="#ff0000" stroke="#444444"/>
<path transform="translate(312.98,28.89)" d="M3,0A3,3 0 1,1 0,-3A3,3 0 0,1 3,0Z" stroke-width="1" fill="#ff0000" stroke="#444444"/>
<path transform="translate(326.95,40.41)" d="M3,0A3,3 0 1,1 0,-3A3,3 0 0,1 3,0Z" stroke-width="1" fill="#ff0000" stroke="#444444"/>
<path transform="translate(340.47,25.05)" d="M3,0A3,3 0 1,1 0,-3A3,3 0 0,1 3,0Z" stroke-width="1" fill="#ff0000" stroke="#444444"/>
<path transform="translate(354.44,28.89)" d="M3,0A3,3 0 1,1 0,-3A3,3 0 0,1 3,0Z" stroke-width="1" fill="#ff0000" stroke="#444444"/>
<path transform="translate(368.41,40.41)" d="M3,0A3,3 0 1,1 0,-3A3,3 0 0,1 3,0Z" stroke-width="1" fill="#ff0000" stroke="#444444"/>
<path transform="translate(381.93,40.41)" d="M3,0A3,3 0 1,1 0,-3A3,3 0 0,1 3,0Z" stroke-width="1" fill="#ff0000" stroke="#444444"/>
<path transform="translate(395.91,44.26)" d="M3,0A3,3 0 1,1 0,-3A3,3 0 0,1 3,0Z" stroke-width="1" fill="#ff0000" stroke="#444444"/>
<path transform="translate(409.43,36.57)" d="M3,0A3,3 0 1,1 0,-3A3,3 0 0,1 3,0Z" stroke-width="1" fill="#ff0000" stroke="#444444"/>
</g>
<path d="M0,0" fill="none"/>
<path d="M0,0" fill="none"/>
<text x="-22.09" y="435" textLength="13.63" lengthAdjust="spacingAndGlyphs" font-size="12.84" fill="#2a3f5f" transform="translate(91.49,0)">Jul</text>
<text x="-5.38" y="435" textLength="27.47" lengthAdjust="spacingAndGlyphs" font-size="12.84" fill="#2a3f5f" transform="translate(91.49,0)">2017</text>
<text x="-23.91" y="435" textLength="17.25" lengthAdjust="spacingAndGlyphs" font-size="12.84" fill="#2a3f5f" transform="translate(174.41,0)">Jan</text>
<text x="-3.55" y="435" textLength="27.45" lengthAdjust="spacingAndGlyphs" font-size="12.84" fill="#2a3f5f" transform="translate(174.41,0)">2018</text>
<text x="-22.09" y="435" textLength="13.63" lengthAdjust="spacingAndGlyphs" font-size="12.84" fill="#2a3f5f" transform="translate(255.98,0)">Jul</text>
<text x="-5.38" y="435" textLength="27.47" lengthAdjust="spacingAndGlyphs" font-size="12.84" fill="#2a3f5f" transform="translate(255.98,0)">2018</text>
<text x="-23.91" y="435" textLength="17.25" lengthAdjust="spacingAndGlyphs" font-size="12.84" fill="#2a3f5f" transform="translate(338.9,0)">Jan</text>
<text x="-3.55" y="435" textLength="27.45" lengthAdjust="spacingAndGlyphs" font-size="12.84" fill="#2a3f5f" transform="translate(338.9,0)">2019</text>
<text x="-22.09" y="435" textLength="13.63" lengthAdjust="spacingAndGlyphs" font-size="12.84" fill="#2a3f5f" transform="translate(420.47,0)">Jul</text>
<text x="-5.38" y="435" textLength="27.47" lengthAdjust="spacingAndGlyphs" font-size="12.84" fill="#2a3f5f" transform="translate(420.47,0)">2019</text>
<text x="-23.91" y="435" textLength="17.25" lengthAdjust="spacingAndGlyphs" font-size="12.84" fill="#2a3f5f" transform="translate(503.4,0)">Jan</text>
<text x="-3.55" y="435" textLength="27.45" lengthAdjust="spacingAndGlyphs" font-size="12.84" fill="#2a3f5f" transform="translate(503.4,0)">2020</text>
<text x="69.53" y="4.2" textLength="6.88" lengthAdjust="spacingAndGlyphs" font-size="12.84" fill="#2a3f5f" transform="translate(0,416.9)">0</text>
<text x="69.53" y="4.2" textLength="6.88" lengthAdjust="spacingAndGlyphs" font-size="12.84" fill="#2a3f5f" transform="translate(0,409.22)">2</text>
<text x="69.53" y="4.2" textLength="6.88" lengthAdjust="spacingAndGlyphs" font-size="12.84" fill="#2a3f5f" transform="translate(0,401.53)">4</text>
<text x="69.53" y="4.2" textLength="6.88" lengthAdjust="spacingAndGlyphs" font-size="12.84" fill="#2a3f5f" transform="translate(0,393.85)">6</text>
<text x="69.53" y="4.2" textLength="6.88" lengthAdjust="spacingAndGlyphs" font-size="12.84" fill="#2a3f5f" transform="translate(0,386.17)">8</text>
<text x="62.67" y="4.2" textLength="13.73" lengthAdjust="spacingAndGlyphs" font-size="12.84" fill="#2a3f5f" transform="translate(0,378.48)">10</text>
<text x="62.67" y="4.2" textLength="13.73" lengthAdjust="spacingAndGlyphs" font-size="12.84" fill="#2a3f5f" transform="translate(0,370.8)">12</text>
<text x="62.67" y="4.2" textLength="13.73" lengthAdjust="spacingAndGlyphs" font-size="12.84" fill="#2a3f5f" transform="translate(0,363.12)">14</text>
<g clip-path="url(#clipfb6a51x)">
<path fill-rule="evenodd" d="M174.41,305.6L174.41,149.6" opacity="0.5" stroke="#808080" fill="#000000" fill-opacity="0" stroke-width="2"/>
</g>
<g clip-path="url(#clipfb6a51x)">
<path fill-rule="evenodd" d="M338.9,305.6L338.9,149.6" opacity="0.5" stroke="#808080" fill="#000000" fill-opacity="0" stroke-width="2"/>
</g>
<g transform="translate(523.7,100)">
<g clip-path="url(#legendfb6a51)">
<g transform="translate(0,14.5)">
<text x="40" y="4.5" textLength="27.36" lengthAdjust="spacingAndGlyphs" font-size="12.84" fill="#2a3f5f">Long</text>
<text x="70.47" y="4.5" textLength="37.91" lengthAdjust="spacingAndGlyphs" font-size="12.84" fill="#2a3f5f">(profit)</text>
<path d="M5,0h30" fill="none" stroke="#008000" stroke-width="2"/>
<path transform="translate(20,0)" d="M3,0A3,3 0 1,1 0,-3A3,3 0 0,1 3,0Z" stroke-width="1" fill="#008000" stroke="#444444"/>
<text x="14.65" y="-7.5" textLength="10.7" lengthAdjust="spacingAndGlyphs" font-size="9.99" fill="#000000">Aa</text>
</g>
<g transform="translate(0,33.5)">
<text x="40" y="4.5" textLength="27.36" lengthAdjust="spacingAndGlyphs" font-size="12.84" fill="#2a3f5f">Long</text>
<text x="70.47" y="4.5" textLength="46.16" lengthAdjust="spacingAndGlyphs" font-size="12.84" fill="#2a3f5f">(triggers</text>
<text x="119.73" y="4.5" textLength="35.52" lengthAdjust="spacingAndGlyphs" font-size="12.84" fill="#2a3f5f">count)</text>
<path d="M5,0h30" fill="none" stroke="#008000" stroke-width="2"/>
<path transform="translate(20,0)" d="M3,0A3,3 0 1,1 0,-3A3,3 0 0,1 3,0Z" stroke-width="1" fill="#008000" stroke="#444444"/>
</g>
<g transform="translate(0,52.5)">
<text x="40" y="4.5" textLength="30.34" lengthAdjust="spacingAndGlyphs" font-size="12.84" fill="#2a3f5f">Short</text>
<text x="73.45" y="4.5" textLength="37.89" lengthAdjust="spacingAndGlyphs" font-size="12.84" fill="#2a3f5f">(profit)</text>
<path d="M5,0h30" fill="none" stroke="#ff0000" stroke-width="2"/>
<path transform="translate(20,0)" d="M3,0A3,3 0 1,1 0,-3A3,3 0 0,1 3,0Z" stroke-width="1" fill="#ff0000" stroke="#444444"/>
<text x="14.65" y="-7.5" textLength="10.7" lengthAdjust="spacingAndGlyphs" font-size="9.99" fill="#000000">Aa</text>
</g>
<g transform="translate(0,71.5)">
<text x="40" y="4.5" textLength="30.34" lengthAdjust="spacingAndGlyphs" font-size="12.84" fill="#2a3f5f">Short</text>
<text x="73.45" y="4.5" textLength="46.16" lengthAdjust="spacingAndGlyphs" font-size="12.84" fill="#2a3f5f">(triggers</text>
<text x="122.7" y="4.5" textLength="35.52" lengthAdjust="spacingAndGlyphs" font-size="12.84" fill="#2a3f5f">count)</text>
<path d="M5,0h30" fill="none" stroke="#ff0000" stroke-width="2"/>
<path transform="translate(20,0)" d="M3,0A3,3 0 1,1 0,-3A3,3 0 0,1 3,0Z" stroke-width="1" fill="#ff0000" stroke="#444444"/>
</g>
<g transform="translate(0,90.5)">
<text x="40" y="4.5" textLength="27.81" lengthAdjust="spacingAndGlyphs" font-size="12.84" fill="#2a3f5f">Total</text>
<text x="70.91" y="4.5" textLength="30.83" lengthAdjust="spacingAndGlyphs" font-size="12.84" fill="#2a3f5f">profit</text>
<path d="M6,6H-6V-6H6Z" transform="translate(20,0)" stroke-width="0.5" fill="#00d4ff" stroke="#e5ecf6"/>
</g>
</g>
</g>
<text x="35" y="50" textLength="79.94" lengthAdjust="spacingAndGlyphs" font-size="17.65" fill="#2a3f5f">BTCUSDT-</text>
<text x="114.92" y="50" textLength="42.23" lengthAdjust="spacingAndGlyphs" font-size="17.65" fill="#2a3f5f">MAC-</text>
<text x="157.14" y="50" textLength="63.78" lengthAdjust="spacingAndGlyphs" font-size="17.65" fill="#2a3f5f">Trailing-</text>
<text x="220.91" y="50" textLength="98.95" lengthAdjust="spacingAndGlyphs" font-size="17.65" fill="#2a3f5f">NoOverlaps-</text>
<text x="319.84" y="50" textLength="25.64" lengthAdjust="spacingAndGlyphs" font-size="17.65" fill="#2a3f5f">1h-</text>
<text x="345.47" y="50" textLength="86.77" lengthAdjust="spacingAndGlyphs" font-size="17.65" fill="#2a3f5f">1000USDT:</text>
<text x="436.64" y="50" textLength="48.63" lengthAdjust="spacingAndGlyphs" font-size="17.65" fill="#2a3f5f">2017+</text>
<text x="489.66" y="50" textLength="92.83" lengthAdjust="spacingAndGlyphs" font-size="17.65" fill="#2a3f5f">MAApprove</text>
<text x="586.88" y="50" textLength="53.08" lengthAdjust="spacingAndGlyphs" font-size="17.65" fill="#2a3f5f">2017+;</text>
<text x="644.36" y="50" textLength="43.23" lengthAdjust="spacingAndGlyphs" font-size="17.65" fill="#2a3f5f">Long:</text>
<text x="692" y="50" textLength="54.91" lengthAdjust="spacingAndGlyphs" font-size="17.65" fill="#2a3f5f">MA(50,</text>
<text x="751.31" y="50" textLength="38.66" lengthAdjust="spacingAndGlyphs" font-size="17.65" fill="#2a3f5f">200);</text>
<text x="794.36" y="50" textLength="47.47" lengthAdjust="spacingAndGlyphs" font-size="17.65" fill="#2a3f5f">Short:</text>
<text x="846.23" y="50" textLength="54.91" lengthAdjust="spacingAndGlyphs" font-size="17.65" fill="#2a3f5f">MA(50,</text>
<text x="905.53" y="50" textLength="34.19" lengthAdjust="spacingAndGlyphs" font-size="17.65" fill="#2a3f5f">200)</text>
<text x="23.59" y="212" textLength="35.81" lengthAdjust="spacingAndGlyphs" font-size="14.53" fill="#2a3f5f" transform="rotate(-90,41.5,212)">Profit</text>
<text x="-5.18" y="387.6" textLength="52.44" lengthAdjust="spacingAndGlyphs" font-size="14.53" fill="#2a3f5f" transform="rotate(-90,41.5,387.6)">Triggers</text>
<text x="50.87" y="387.6" textLength="37.31" lengthAdjust="spacingAndGlyphs" font-size="14.53" fill="#2a3f5f" transform="rotate(-90,41.5,387.6)">count</text>
<g transform="rotate(0,164.41,118)">
<g transform="translate(135,100)">
<text x="8.23" y="15" textLength="10.73" lengthAdjust="spacingAndGlyphs" font-size="12.46" fill="#2a3f5f" font-weight="bold">&lt;-</text>
<text x="22.06" y="15" textLength="27.47" lengthAdjust="spacingAndGlyphs" font-size="12.46" fill="#2a3f5f" font-weight="bold">2017</text>
<text x="17.58" y="30" textLength="31.33" lengthAdjust="spacingAndGlyphs" font-size="12.46" fill="#2a3f5f" font-weight="bold">2018-</text>
<text x="48.89" y="30" textLength="6.88" lengthAdjust="spacingAndGlyphs" font-size="12.46" fill="#2a3f5f" font-weight="bold">&gt;</text>
</g>
</g>
<path d="M170.41,136L174.41,148" stroke-width="1" stroke="#2a3f5f"/>
<g transform="rotate(0,328.9,118)">
<g transform="translate(300,100)">
<text x="8.23" y="15" textLength="10.73" lengthAdjust="spacingAndGlyphs" font-size="12.46" fill="#2a3f5f" font-weight="bold">&lt;-</text>
<text x="22.06" y="15" textLength="27.47" lengthAdjust="spacingAndGlyphs" font-size="12.46" fill="#2a3f5f" font-weight="bold">2018</text>
<text x="17.58" y="30" textLength="31.33" lengthAdjust="spacingAndGlyphs" font-size="12.46" fill="#2a3f5f" font-weight="bold">2019-</text>
<text x="48.89" y="30" textLength="6.88" lengthAdjust="spacingAndGlyphs" font-size="12.46" fill="#2a3f5f" font-weight="bold">&gt;</text>
</g>
</g>
<path d="M334.9,136L338.9,148" stroke-width="1" stroke="#2a3f5f"/>
<g transform="translate(80,339)">
<rect x="0" y="0" shape-rendering="crispEdges" width="435" height="22.4" stroke-width="0" stroke="#444444" fill="#e5ecf6"/>
<g clip-path="url(#rangesliderx-fb6a51)">
<path d="M20.76,14.98V12.49H30.23V14.98Z" stroke-width="0.5" fill="#00d4ff" stroke="#e5ecf6"/>
<text x="-28.68" y="0" textLength="30.4" lengthAdjust="spacingAndGlyphs" font-size="12.84" fill="#000000" transform="translate(25.495,8.834)scale(0.163)" stroke="#000" stroke-width="0.5">111.5</text>
<text x="4.76" y="0" textLength="23.92" lengthAdjust="spacingAndGlyphs" font-size="12.84" fill="#000000" transform="translate(25.495,8.834)scale(0.163)" stroke="#000" stroke-width="0.5">USD</text>
<path d="M34.73,14.98V5.95H44.2V14.98Z" stroke-width="0.5" fill="#00d4ff" stroke="#e5ecf6"/>
<text x="-28.68" y="0" textLength="30.4" lengthAdjust="spacingAndGlyphs" font-size="12.84" fill="#000000" transform="translate(39.465,2.294)scale(0.163)" stroke="#000" stroke-width="0.5">404.2</text>
<text x="4.76" y="0" textLength="23.92" lengthAdjust="spacingAndGlyphs" font-size="12.84" fill="#000000" transform="translate(39.465,2.294)scale(0.163)" stroke="#000" stroke-width="0.5">USD</text>
<path d="M48.25,14.98V3.69H57.72V14.98Z" stroke-width="0.5" fill="#00d4ff" stroke="#e5ecf6"/>
<text x="-28.68" y="0" textLength="30.4" lengthAdjust="spacingAndGlyphs" font-size="12.84" fill="#000000" transform="translate(52.985,0.034)scale(0.163)" stroke="#000" stroke-width="0.5">505.3</text>
<text x="4.76" y="0" textLength="23.92" lengthAdjust="spacingAndGlyphs" font-size="12.84" fill="#000000" transform="translate(52.985,0.034)scale(0.163)" stroke="#000" stroke-width="0.5">USD</text>
<path d="M62.22,14.98V12.84H71.68V14.98Z" stroke-width="0.5" fill="#00d4ff" stroke="#e5ecf6"/>
<text x="-25.34" y="0" textLength="23.62" lengthAdjust="spacingAndGlyphs" font-size="12.84" fill="#000000" transform="translate(66.95,9.096)scale(0.185)" stroke="#000" stroke-width="0.5">95.7</text>
<text x="1.3" y="0" textLength="24.04" lengthAdjust="spacingAndGlyphs" font-size="12.84" fill="#000000" transform="translate(66.95,9.096)scale(0.185)" stroke="#000" stroke-width="0.5">USD</text>
<path d="M75.74,14.98V4.58H85.2V14.98Z" stroke-width="0.5" fill="#00d4ff" stroke="#e5ecf6"/>
<text x="-28.71" y="0" textLength="30.43" lengthAdjust="spacingAndGlyphs" font-size="12.84" fill="#000000" transform="translate(80.47,0.924)scale(0.163)" stroke="#000" stroke-width="0.5">465.5</text>
<text x="4.77" y="0" textLength="23.94" lengthAdjust="spacingAndGlyphs" font-size="12.84" fill="#000000" transform="translate(80.47,0.924)scale(0.163)" stroke="#000" stroke-width="0.5">USD</text>
<path d="M89.71,14.98V15.4H99.17V14.98Z" stroke-width="0.5" fill="#00d4ff" stroke="#e5ecf6"/>
<text x="-27.26" y="0" textLength="27.49" lengthAdjust="spacingAndGlyphs" font-size="12.84" fill="#000000" transform="translate(94.44,20.646)scale(0.172)" stroke="#000" stroke-width="0.5">-18.8</text>
<text x="3.21" y="0" textLength="24.05" lengthAdjust="spacingAndGlyphs" font-size="12.84" fill="#000000" transform="translate(94.44,20.646)scale(0.172)" stroke="#000" stroke-width="0.5">USD</text>
<path d="M103.68,14.98V2.21H113.14V14.98Z" stroke-width="0.5" fill="#00d4ff" stroke="#e5ecf6"/>
<text x="-28.71" y="0" textLength="30.43" lengthAdjust="spacingAndGlyphs" font-size="12.84" fill="#000000" transform="translate(108.41,-1.445)scale(0.163)" stroke="#000" stroke-width="0.5">571.5</text>
<text x="4.77" y="0" textLength="23.94" lengthAdjust="spacingAndGlyphs" font-size="12.84" fill="#000000" transform="translate(108.41,-1.445)scale(0.163)" stroke="#000" stroke-width="0.5">USD</text>
<path d="M116.3,14.98V8.83H125.76V14.98Z" stroke-width="0.5" fill="#00d4ff" stroke="#e5ecf6"/>
<text x="-28.71" y="0" textLength="30.43" lengthAdjust="spacingAndGlyphs" font-size="12.84" fill="#000000" transform="translate(121.03,5.174)scale(0.163)" stroke="#000" stroke-width="0.5">275.2</text>
<text x="4.77" y="0" textLength="23.94" lengthAdjust="spacingAndGlyphs" font-size="12.84" fill="#000000" transform="translate(121.03,5.174)scale(0.163)" stroke="#000" stroke-width="0.5">USD</text>
<path d="M130.27,14.98V19.46H139.73V14.98Z" stroke-width="0.5" fill="#00d4ff" stroke="#e5ecf6"/>
<text x="-30.59" y="0" textLength="34.2" lengthAdjust="spacingAndGlyphs" font-size="12.84" fill="#000000" transform="translate(135,24.455)scale(0.153)" stroke="#000" stroke-width="0.5">-200.6</text>
<text x="6.67" y="0" textLength="23.92" lengthAdjust="spacingAndGlyphs" font-size="12.84" fill="#000000" transform="translate(135,24.455)scale(0.153)" stroke="#000" stroke-width="0.5">USD</text>
<path d="M143.78,14.98V15.69H153.25V14.98Z" stroke-width="0.5" fill="#00d4ff" stroke="#e5ecf6"/>
<text x="-27.24" y="0" textLength="27.46" lengthAdjust="spacingAndGlyphs" font-size="12.84" fill="#000000" transform="translate(148.515,20.938)scale(0.172)" stroke="#000" stroke-width="0.5">-32.0</text>
<text x="3.21" y="0" textLength="24.03" lengthAdjust="spacingAndGlyphs" font-size="12.84" fill="#000000" transform="translate(148.515,20.938)scale(0.172)" stroke="#000" stroke-width="0.5">USD</text>
<path d="M157.75,14.98V12.2H167.22V14.98Z" stroke-width="0.5" fill="#00d4ff" stroke="#e5ecf6"/>
<text x="-28.68" y="0" textLength="30.4" lengthAdjust="spacingAndGlyphs" font-size="12.84" fill="#000000" transform="translate(162.485,8.544)scale(0.163)" stroke="#000" stroke-width="0.5">124.5</text>
<text x="4.76" y="0" textLength="23.92" lengthAdjust="spacingAndGlyphs" font-size="12.84" fill="#000000" transform="translate(162.485,8.544)scale(0.163)" stroke="#000" stroke-width="0.5">USD</text>
<path d="M171.27,14.98V11.6H180.74V14.98Z" stroke-width="0.5" fill="#00d4ff" stroke="#e5ecf6"/>
<text x="-28.68" y="0" textLength="30.4" lengthAdjust="spacingAndGlyphs" font-size="12.84" fill="#000000" transform="translate(176.005,7.944)scale(0.163)" stroke="#000" stroke-width="0.5">151.2</text>
<text x="4.76" y="0" textLength="23.92" lengthAdjust="spacingAndGlyphs" font-size="12.84" fill="#000000" transform="translate(176.005,7.944)scale(0.163)" stroke="#000" stroke-width="0.5">USD</text>
<path d="M185.24,14.98V15.21H194.7V14.98Z" stroke-width="0.5" fill="#00d4ff" stroke="#e5ecf6"/>
<text x="-27.26" y="0" textLength="27.49" lengthAdjust="spacingAndGlyphs" font-size="12.84" fill="#000000" transform="translate(189.97,20.456)scale(0.172)" stroke="#000" stroke-width="0.5">-10.6</text>
<text x="3.21" y="0" textLength="24.05" lengthAdjust="spacingAndGlyphs" font-size="12.84" fill="#000000" transform="translate(189.97,20.456)scale(0.172)" stroke="#000" stroke-width="0.5">USD</text>
<path d="M199.21,14.98V15.18H208.67V14.98Z" stroke-width="0.5" fill="#00d4ff" stroke="#e5ecf6"/>
<text x="-23.85" y="0" textLength="20.65" lengthAdjust="spacingAndGlyphs" font-size="12.84" fill="#000000" transform="translate(203.94,20.747)scale(0.197)" stroke="#000" stroke-width="0.5">-9.2</text>
<text x="-0.12" y="0" textLength="23.97" lengthAdjust="spacingAndGlyphs" font-size="12.84" fill="#000000" transform="translate(203.94,20.747)scale(0.197)" stroke="#000" stroke-width="0.5">USD</text>
<path d="M212.73,14.98V14.77H222.19V14.98Z" stroke-width="0.5" fill="#00d4ff" stroke="#e5ecf6"/>
<text x="-21.89" y="0" textLength="16.8" lengthAdjust="spacingAndGlyphs" font-size="12.84" fill="#000000" transform="translate(217.459,10.91)scale(0.214)" stroke="#000" stroke-width="0.5">9.2</text>
<text x="-2.04" y="0" textLength="23.93" lengthAdjust="spacingAndGlyphs" font-size="12.84" fill="#000000" transform="translate(217.459,10.91)scale(0.214)" stroke="#000" stroke-width="0.5">USD</text>
<path d="M226.7,14.98V10.05H236.16V14.98Z" stroke-width="0.5" fill="#00d4ff" stroke="#e5ecf6"/>
<text x="-28.71" y="0" textLength="30.43" lengthAdjust="spacingAndGlyphs" font-size="12.84" fill="#000000" transform="translate(231.43,6.394)scale(0.163)" stroke="#000" stroke-width="0.5">220.4</text>
<text x="4.77" y="0" textLength="23.94" lengthAdjust="spacingAndGlyphs" font-size="12.84" fill="#000000" transform="translate(231.43,6.394)scale(0.163)" stroke="#000" stroke-width="0.5">USD</text>
<path d="M240.22,14.98V13.43H249.68V14.98Z" stroke-width="0.5" fill="#00d4ff" stroke="#e5ecf6"/>
<text x="-25.34" y="0" textLength="23.62" lengthAdjust="spacingAndGlyphs" font-size="12.84" fill="#000000" transform="translate(244.95,9.686)scale(0.185)" stroke="#000" stroke-width="0.5">69.3</text>
<text x="1.3" y="0" textLength="24.04" lengthAdjust="spacingAndGlyphs" font-size="12.84" fill="#000000" transform="translate(244.95,9.686)scale(0.185)" stroke="#000" stroke-width="0.5">USD</text>
<path d="M254.19,14.98V15.79H263.65V14.98Z" stroke-width="0.5" fill="#00d4ff" stroke="#e5ecf6"/>
<text x="-27.26" y="0" textLength="27.49" lengthAdjust="spacingAndGlyphs" font-size="12.84" fill="#000000" transform="translate(258.919,21.036)scale(0.172)" stroke="#000" stroke-width="0.5">-36.3</text>
<text x="3.21" y="0" textLength="24.05" lengthAdjust="spacingAndGlyphs" font-size="12.84" fill="#000000" transform="translate(258.919,21.036)scale(0.172)" stroke="#000" stroke-width="0.5">USD</text>
<path d="M268.16,14.98V14.64H277.62V14.98Z" stroke-width="0.5" fill="#00d4ff" stroke="#e5ecf6"/>
<text x="-25.34" y="0" textLength="23.62" lengthAdjust="spacingAndGlyphs" font-size="12.84" fill="#000000" transform="translate(272.89,10.896)scale(0.185)" stroke="#000" stroke-width="0.5">14.9</text>
<text x="1.3" y="0" textLength="24.04" lengthAdjust="spacingAndGlyphs" font-size="12.84" fill="#000000" transform="translate(272.89,10.896)scale(0.185)" stroke="#000" stroke-width="0.5">USD</text>
<path d="M280.77,14.98V10.36H290.24V14.98Z" stroke-width="0.5" fill="#00d4ff" stroke="#e5ecf6"/>
<text x="-28.68" y="0" textLength="30.4" lengthAdjust="spacingAndGlyphs" font-size="12.84" fill="#000000" transform="translate(285.505,6.704)scale(0.163)" stroke="#000" stroke-width="0.5">206.8</text>
<text x="4.76" y="0" textLength="23.92" lengthAdjust="spacingAndGlyphs" font-size="12.84" fill="#000000" transform="translate(285.505,6.704)scale(0.163)" stroke="#000" stroke-width="0.5">USD</text>
<path d="M294.74,14.98V8.26H304.21V14.98Z" stroke-width="0.5" fill="#00d4ff" stroke="#e5ecf6"/>
<text x="-28.68" y="0" textLength="30.4" lengthAdjust="spacingAndGlyphs" font-size="12.84" fill="#000000" transform="translate(299.475,4.604)scale(0.163)" stroke="#000" stroke-width="0.5">300.6</text>
<text x="4.76" y="0" textLength="23.92" lengthAdjust="spacingAndGlyphs" font-size="12.84" fill="#000000" transform="translate(299.475,4.604)scale(0.163)" stroke="#000" stroke-width="0.5">USD</text>
<path d="M308.26,14.98V13.63H317.73V14.98Z" stroke-width="0.5" fill="#00d4ff" stroke="#e5ecf6"/>
<text x="-25.32" y="0" textLength="23.59" lengthAdjust="spacingAndGlyphs" font-size="12.84" fill="#000000" transform="translate(312.995,9.885)scale(0.186)" stroke="#000" stroke-width="0.5">60.3</text>
<text x="1.3" y="0" textLength="24.01" lengthAdjust="spacingAndGlyphs" font-size="12.84" fill="#000000" transform="translate(312.995,9.885)scale(0.186)" stroke="#000" stroke-width="0.5">USD</text>
<path d="M322.23,14.98V1.59H331.69V14.98Z" stroke-width="0.5" fill="#00d4ff" stroke="#e5ecf6"/>
<text x="-28.71" y="0" textLength="30.43" lengthAdjust="spacingAndGlyphs" font-size="12.84" fill="#000000" transform="translate(326.96,-2.065)scale(0.163)" stroke="#000" stroke-width="0.5">599.1</text>
<text x="4.77" y="0" textLength="23.94" lengthAdjust="spacingAndGlyphs" font-size="12.84" fill="#000000" transform="translate(326.96,-2.065)scale(0.163)" stroke="#000" stroke-width="0.5">USD</text>
<path d="M335.75,14.98V7.95H345.21V14.98Z" stroke-width="0.5" fill="#00d4ff" stroke="#e5ecf6"/>
<text x="-28.71" y="0" textLength="30.43" lengthAdjust="spacingAndGlyphs" font-size="12.84" fill="#000000" transform="translate(340.48,4.294)scale(0.163)" stroke="#000" stroke-width="0.5">314.6</text>
<text x="4.77" y="0" textLength="23.94" lengthAdjust="spacingAndGlyphs" font-size="12.84" fill="#000000" transform="translate(340.48,4.294)scale(0.163)" stroke="#000" stroke-width="0.5">USD</text>
<path d="M349.72,14.98V17.61H359.18V14.98Z" stroke-width="0.5" fill="#00d4ff" stroke="#e5ecf6"/>
<text x="-30.59" y="0" textLength="34.2" lengthAdjust="spacingAndGlyphs" font-size="12.84" fill="#000000" transform="translate(354.45,22.605)scale(0.153)" stroke="#000" stroke-width="0.5">-117.9</text>
<text x="6.67" y="0" textLength="23.92" lengthAdjust="spacingAndGlyphs" font-size="12.84" fill="#000000" transform="translate(354.45,22.605)scale(0.153)" stroke="#000" stroke-width="0.5">USD</text>
<path d="M363.69,14.98V13.72H373.15V14.98Z" stroke-width="0.5" fill="#00d4ff" stroke="#e5ecf6"/>
<text x="-25.34" y="0" textLength="23.62" lengthAdjust="spacingAndGlyphs" font-size="12.84" fill="#000000" transform="translate(368.419,9.976)scale(0.185)" stroke="#000" stroke-width="0.5">56.3</text>
<text x="1.3" y="0" textLength="24.04" lengthAdjust="spacingAndGlyphs" font-size="12.84" fill="#000000" transform="translate(368.419,9.976)scale(0.185)" stroke="#000" stroke-width="0.5">USD</text>
<path d="M377.21,14.98V12.68H386.67V14.98Z" stroke-width="0.5" fill="#00d4ff" stroke="#e5ecf6"/>
<text x="-28.71" y="0" textLength="30.43" lengthAdjust="spacingAndGlyphs" font-size="12.84" fill="#000000" transform="translate(381.94,9.024)scale(0.163)" stroke="#000" stroke-width="0.5">102.6</text>
<text x="4.77" y="0" textLength="23.94" lengthAdjust="spacingAndGlyphs" font-size="12.84" fill="#000000" transform="translate(381.94,9.024)scale(0.163)" stroke="#000" stroke-width="0.5">USD</text>
<path d="M391.18,14.98V12.94H400.64V14.98Z" stroke-width="0.5" fill="#00d4ff" stroke="#e5ecf6"/>
<text x="-25.34" y="0" textLength="23.62" lengthAdjust="spacingAndGlyphs" font-size="12.84" fill="#000000" transform="translate(395.909,9.196)scale(0.185)" stroke="#000" stroke-width="0.5">91.1</text>
<text x="1.3" y="0" textLength="24.04" lengthAdjust="spacingAndGlyphs" font-size="12.84" fill="#000000" transform="translate(395.909,9.196)scale(0.185)" stroke="#000" stroke-width="0.5">USD</text>
<path d="M404.7,14.98V16.41H414.16V14.98Z" stroke-width="0.5" fill="#00d4ff" stroke="#e5ecf6"/>
<text x="-27.26" y="0" textLength="27.49" lengthAdjust="spacingAndGlyphs" font-size="12.84" fill="#000000" transform="translate(409.43,21.656)scale(0.172)" stroke="#000" stroke-width="0.5">-64.2</text>
<text x="3.21" y="0" textLength="24.05" lengthAdjust="spacingAndGlyphs" font-size="12.84" fill="#000000" transform="translate(409.43,21.656)scale(0.172)" stroke="#000" stroke-width="0.5">USD</text>
<path d="M25.5,14.45L39.46,11.53L52.98,4.62L66.95,10.85L80.47,6.39L94.44,13.96L108.41,7.17L121.03,15.62L135,13.91L148.52,16.37L162.49,16.38L176,13.29L189.97,13.22L203.94,17.16L217.46,15.67L231.43,14.87L244.95,17.09L258.92,17.08L272.89,11.76L299.47,5.97L312.99,13.28L326.96,4.35L340.48,9.21L354.45,17.22L368.42,16.36L381.94,15.57L395.91,17.85L409.43,16.4" fill="none" stroke="#008000" stroke-width="2"/>
<path transform="translate(25.5,14.45)" d="M3,0A3,3 0 1,1 0,-3A3,3 0 0,1 3,0Z" stroke-width="1" fill="#008000" stroke="#444444"/>
<path transform="translate(39.46,11.53)" d="M3,0A3,3 0 1,1 0,-3A3,3 0 0,1 3,0Z" stroke-width="1" fill="#008000" stroke="#444444"/>
<path transform="translate(52.98,4.62)" d="M3,0A3,3 0 1,1 0,-3A3,3 0 0,1 3,0Z" stroke-width="1" fill="#008000" stroke="#444444"/>
<path transform="translate(66.95,10.85)" d="M3,0A3,3 0 1,1 0,-3A3,3 0 0,1 3,0Z" stroke-width="1" fill="#008000" stroke="#444444"/>
<path transform="translate(80.47,6.39)" d="M3,0A3,3 0 1,1 0,-3A3,3 0 0,1 3,0Z" stroke-width="1" fill="#008000" stroke="#444444"/>
<path transform="translate(94.44,13.96)" d="M3,0A3,3 0 1,1 0,-3A3,3 0 0,1 3,0Z" stroke-width="1" fill="#008000" stroke="#444444"/>
<path transform="translate(108.41,7.17)" d="M3,0A3,3 0 1,1 0,-3A3,3 0 0,1 3,0Z" stroke-width="1" fill="#008000" stroke="#444444"/>
<path transform="translate(121.03,15.62)" d="M3,0A3,3 0 1,1 0,-3A3,3 0 0,1 3,0Z" stroke-width="1" fill="#008000" stroke="#444444"/>
<path transform="translate(135,13.91)" d="M3,0A3,3 0 1,1 0,-3A3,3 0 0,1 3,0Z" stroke-width="1" fill="#008000" stroke="#444444"/>
<path transform="translate(148.52,16.37)" d="M3,0A3,3 0 1,1 0,-3A3,3 0 0,1 3,0Z" stroke-width="1" fill="#008000" stroke="#444444"/>
<path transform="translate(162.49,16.38)" d="M3,0A3,3 0 1,1 0,-3A3,3 0 0,1 3,0Z" stroke-width="1" fill="#008000" stroke="#444444"/>
<path transform="translate(176,13.29)" d="M3,0A3,3 0 1,1 0,-3A3,3 0 0,1 3,0Z" stroke-width="1" fill="#008000" stroke="#444444"/>
<path transform="translate(189.97,13.22)" d="M3,0A3,3 0 1,1 0,-3A3,3 0 0,1 3,0Z" stroke-width="1" fill="#008000" stroke="#444444"/>
<path transform="translate(203.94,17.16)" d="M3,0A3,3 0 1,1 0,-3A3,3 0 0,1 3,0Z" stroke-width="1" fill="#008000" stroke="#444444"/>
<path transform="translate(217.46,15.67)" d="M3,0A3,3 0 1,1 0,-3A3,3 0 0,1 3,0Z" stroke-width="1" fill="#008000" stroke="#444444"/>
<path transform="translate(231.43,14.87)" d="M3,0A3,3 0 1,1 0,-3A3,3 0 0,1 3,0Z" stroke-width="1" fill="#008000" stroke="#444444"/>
<path transform="translate(244.95,17.09)" d="M3,0A3,3 0 1,1 0,-3A3,3 0 0,1 3,0Z" stroke-width="1" fill="#008000" stroke="#444444"/>
<path transform="translate(258.92,17.08)" d="M3,0A3,3 0 1,1 0,-3A3,3 0 0,1 3,0Z" stroke-width="1" fill="#008000" stroke="#444444"/>
<path transform="translate(272.89,11.76)" d="M3,0A3,3 0 1,1 0,-3A3,3 0 0,1 3,0Z" stroke-width="1" fill="#008000" stroke="#444444"/>
<path transform="translate(285.51,8.94)" d="M3,0A3,3 0 1,1 0,-3A3,3 0 0,1 3,0Z" stroke-width="1" fill="#008000" stroke="#444444"/>
<path transform="translate(299.47,5.97)" d="M3,0A3,3 0 1,1 0,-3A3,3 0 0,1 3,0Z" stroke-width="1" fill="#008000" stroke="#444444"/>
<path transform="translate(312.99,13.28)" d="M3,0A3,3 0 1,1 0,-3A3,3 0 0,1 3,0Z" stroke-width="1" fill="#008000" stroke="#444444"/>
<path transform="translate(326.96,4.35)" d="M3,0A3,3 0 1,1 0,-3A3,3 0 0,1 3,0Z" stroke-width="1" fill="#008000" stroke="#444444"/>
<path transform="translate(340.48,9.21)" d="M3,0A3,3 0 1,1 0,-3A3,3 0 0,1 3,0Z" stroke-width="1" fill="#008000" stroke="#444444"/>
<path transform="translate(354.45,17.22)" d="M3,0A3,3 0 1,1 0,-3A3,3 0 0,1 3,0Z" stroke-width="1" fill="#008000" stroke="#444444"/>
<path transform="translate(368.42,16.36)" d="M3,0A3,3 0 1,1 0,-3A3,3 0 0,1 3,0Z" stroke-width="1" fill="#008000" stroke="#444444"/>
<path transform="translate(381.94,15.57)" d="M3,0A3,3 0 1,1 0,-3A3,3 0 0,1 3,0Z" stroke-width="1" fill="#008000" stroke="#444444"/>
<path transform="translate(395.91,17.85)" d="M3,0A3,3 0 1,1 0,-3A3,3 0 0,1 3,0Z" stroke-width="1" fill="#008000" stroke="#444444"/>
<path transform="translate(409.43,16.4)" d="M3,0A3,3 0 1,1 0,-3A3,3 0 0,1 3,0Z" stroke-width="1" fill="#008000" stroke="#444444"/>
<g transform="translate(0,-7)">
<text x="12.88" y="14" textLength="25.25" lengthAdjust="spacingAndGlyphs" font-size="9.99" fill="#000000">2.38%</text>
</g>
<g transform="translate(0,-7)">
<text x="24.26" y="11" textLength="30.39" lengthAdjust="spacingAndGlyphs" font-size="9.99" fill="#000000">15.42%</text>
</g>
<g transform="translate(0,-7)">
<text x="37.78" y="4" textLength="30.39" lengthAdjust="spacingAndGlyphs" font-size="9.99" fill="#000000">46.36%</text>
</g>
<g transform="translate(0,-7)">
<text x="51.75" y="10" textLength="30.39" lengthAdjust="spacingAndGlyphs" font-size="9.99" fill="#000000">18.46%</text>
</g>
<g transform="translate(0,-7)">
<text x="65.27" y="6" textLength="30.39" lengthAdjust="spacingAndGlyphs" font-size="9.99" fill="#000000">38.43%</text>
</g>
<g transform="translate(0,-7)">
<text x="81.82" y="14" textLength="25.25" lengthAdjust="spacingAndGlyphs" font-size="9.99" fill="#000000">4.55%</text>
</g>
<g transform="translate(0,-7)">
<text x="93.21" y="7" textLength="30.39" lengthAdjust="spacingAndGlyphs" font-size="9.99" fill="#000000">34.94%</text>
</g>
<g transform="translate(0,-7)">
<text x="106.96" y="15" textLength="28.14" lengthAdjust="spacingAndGlyphs" font-size="9.99" fill="#000000">-2.86%</text>
</g>
<g transform="translate(0,-7)">
<text x="122.38" y="13" textLength="25.25" lengthAdjust="spacingAndGlyphs" font-size="9.99" fill="#000000">4.76%</text>
</g>
<g transform="translate(0,-7)">
<text x="134.45" y="16" textLength="28.14" lengthAdjust="spacingAndGlyphs" font-size="9.99" fill="#000000">-6.23%</text>
</g>
<g transform="translate(0,-7)">
<text x="148.42" y="16" textLength="28.14" lengthAdjust="spacingAndGlyphs" font-size="9.99" fill="#000000">-6.29%</text>
</g>
<g transform="translate(0,-7)">
<text x="163.38" y="13" textLength="25.25" lengthAdjust="spacingAndGlyphs" font-size="9.99" fill="#000000">7.55%</text>
</g>
<g transform="translate(0,-7)">
<text x="177.35" y="13" textLength="25.25" lengthAdjust="spacingAndGlyphs" font-size="9.99" fill="#000000">7.87%</text>
</g>
<g transform="translate(0,-7)">
<text x="189.87" y="17" textLength="28.14" lengthAdjust="spacingAndGlyphs" font-size="9.99" fill="#000000">-9.79%</text>
</g>
<g transform="translate(0,-7)">
<text x="203.39" y="15" textLength="28.14" lengthAdjust="spacingAndGlyphs" font-size="9.99" fill="#000000">-3.08%</text>
</g>
<g transform="translate(0,-7)">
<text x="218.8" y="14" textLength="25.25" lengthAdjust="spacingAndGlyphs" font-size="9.99" fill="#000000">0.48%</text>
</g>
<g transform="translate(0,-7)">
<text x="230.88" y="17" textLength="28.14" lengthAdjust="spacingAndGlyphs" font-size="9.99" fill="#000000">-9.46%</text>
</g>
<g transform="translate(0,-7)">
<text x="244.85" y="17" textLength="28.14" lengthAdjust="spacingAndGlyphs" font-size="9.99" fill="#000000">-9.41%</text>
</g>
<g transform="translate(0,-7)">
<text x="257.69" y="11" textLength="30.39" lengthAdjust="spacingAndGlyphs" font-size="9.99" fill="#000000">14.41%</text>
</g>
<g transform="translate(0,-7)">
<text x="270.31" y="8" textLength="30.39" lengthAdjust="spacingAndGlyphs" font-size="9.99" fill="#000000">27.04%</text>
</g>
<g transform="translate(0,-7)">
<text x="284.27" y="6" textLength="30.39" lengthAdjust="spacingAndGlyphs" font-size="9.99" fill="#000000">40.32%</text>
</g>
<g transform="translate(0,-7)">
<text x="302.94" y="13" textLength="20.11" lengthAdjust="spacingAndGlyphs" font-size="9.99" fill="#000000">7.6%</text>
</g>
<g transform="translate(0,-7)">
<text x="311.76" y="4" textLength="30.39" lengthAdjust="spacingAndGlyphs" font-size="9.99" fill="#000000">47.56%</text>
</g>
<g transform="translate(0,-7)">
<text x="325.28" y="9" textLength="30.39" lengthAdjust="spacingAndGlyphs" font-size="9.99" fill="#000000">25.79%</text>
</g>
<g transform="translate(0,-7)">
<text x="337.8" y="17" textLength="33.3" lengthAdjust="spacingAndGlyphs" font-size="9.99" fill="#000000">-10.03%</text>
</g>
<g transform="translate(0,-7)">
<text x="354.35" y="16" textLength="28.14" lengthAdjust="spacingAndGlyphs" font-size="9.99" fill="#000000">-6.21%</text>
</g>
<g transform="translate(0,-7)">
<text x="367.87" y="15" textLength="28.14" lengthAdjust="spacingAndGlyphs" font-size="9.99" fill="#000000">-2.65%</text>
</g>
<g transform="translate(0,-7)">
<text x="379.26" y="17" textLength="33.3" lengthAdjust="spacingAndGlyphs" font-size="9.99" fill="#000000">-12.85%</text>
</g>
<g transform="translate(0,-7)">
<text x="395.36" y="16" textLength="28.14" lengthAdjust="spacingAndGlyphs" font-size="9.99" fill="#000000">-6.38%</text>
</g>
<path d="M25.5,13.02L39.46,9.39L52.98,14.05L66.95,16.96L80.47,13.16L94.44,16.41L108.41,10.01L121.03,8.19L135,20.52L148.52,14.3L162.49,10.79L176,13.29L189.97,16.97L203.94,13L217.46,14.08L231.43,10.16L244.95,11.32L258.92,13.69L272.89,17.86L285.51,16.4L299.47,17.27L312.99,15.33L326.96,12.22L354.45,15.37L368.42,12.33L381.94,12.09L395.91,10.07L409.43,14.99" fill="none" stroke="#ff0000" stroke-width="2"/>
<path transform="translate(25.5,13.02)" d="M3,0A3,3 0 1,1 0,-3A3,3 0 0,1 3,0Z" stroke-width="1" fill="#ff0000" stroke="#444444"/>
<path transform="translate(39.46,9.39)" d="M3,0A3,3 0 1,1 0,-3A3,3 0 0,1 3,0Z" stroke-width="1" fill="#ff0000" stroke="#444444"/>
<path transform="translate(52.98,14.05)" d="M3,0A3,3 0 1,1 0,-3A3,3 0 0,1 3,0Z" stroke-width="1" fill="#ff0000" stroke="#444444"/>
<path transform="translate(66.95,16.96)" d="M3,0A3,3 0 1,1 0,-3A3,3 0 0,1 3,0Z" stroke-width="1" fill="#ff0000" stroke="#444444"/>
<path transform="translate(80.47,13.16)" d="M3,0A3,3 0 1,1 0,-3A3,3 0 0,1 3,0Z" stroke-width="1" fill="#ff0000" stroke="#444444"/>
<path transform="translate(94.44,16.41)" d="M3,0A3,3 0 1,1 0,-3A3,3 0 0,1 3,0Z" stroke-width="1" fill="#ff0000" stroke="#444444"/>
<path transform="translate(108.41,10.01)" d="M3,0A3,3 0 1,1 0,-3A3,3 0 0,1 3,0Z" stroke-width="1" fill="#ff0000" stroke="#444444"/>
<path transform="translate(121.03,8.19)" d="M3,0A3,3 0 1,1 0,-3A3,3 0 0,1 3,0Z" stroke-width="1" fill="#ff0000" stroke="#444444"/>
<path transform="translate(135,20.52)" d="M3,0A3,3 0 1,1 0,-3A3,3 0 0,1 3,0Z" stroke-width="1" fill="#ff0000" stroke="#444444"/>
<path transform="translate(148.52,14.3)" d="M3,0A3,3 0 1,1 0,-3A3,3 0 0,1 3,0Z" stroke-width="1" fill="#ff0000" stroke="#444444"/>
<path transform="translate(162.49,10.79)" d="M3,0A3,3 0 1,1 0,-3A3,3 0 0,1 3,0Z" stroke-width="1" fill="#ff0000" stroke="#444444"/>
<path transform="translate(176,13.29)" d="M3,0A3,3 0 1,1 0,-3A3,3 0 0,1 3,0Z" stroke-width="1" fill="#ff0000" stroke="#444444"/>
<path transform="translate(189.97,16.97)" d="M3,0A3,3 0 1,1 0,-3A3,3 0 0,1 3,0Z" stroke-width="1" fill="#ff0000" stroke="#444444"/>
<path transform="translate(203.94,13)" d="M3,0A3,3 0 1,1 0,-3A3,3 0 0,1 3,0Z" stroke-width="1" fill="#ff0000" stroke="#444444"/>
<path transform="translate(217.46,14.08)" d="M3,0A3,3 0 1,1 0,-3A3,3 0 0,1 3,0Z" stroke-width="1" fill="#ff0000" stroke="#444444"/>
<path transform="translate(231.43,10.16)" d="M3,0A3,3 0 1,1 0,-3A3,3 0 0,1 3,0Z" stroke-width="1" fill="#ff0000" stroke="#444444"/>
<path transform="translate(244.95,11.32)" d="M3,0A3,3 0 1,1 0,-3A3,3 0 0,1 3,0Z" stroke-width="1" fill="#ff0000" stroke="#444444"/>
<path transform="translate(258.92,13.69)" d="M3,0A3,3 0 1,1 0,-3A3,3 0 0,1 3,0Z" stroke-width="1" fill="#ff0000" stroke="#444444"/>
<path transform="translate(272.89,17.86)" d="M3,0A3,3 0 1,1 0,-3A3,3 0 0,1 3,0Z" stroke-width="1" fill="#ff0000" stroke="#444444"/>
<path transform="translate(285.51,16.4)" d="M3,0A3,3 0 1,1 0,-3A3,3 0 0,1 3,0Z" stroke-width="1" fill="#ff0000" stroke="#444444"/>
<path transform="translate(299.47,17.27)" d="M3,0A3,3 0 1,1 0,-3A3,3 0 0,1 3,0Z" stroke-width="1" fill="#ff0000" stroke="#444444"/>
<path transform="translate(312.99,15.33)" d="M3,0A3,3 0 1,1 0,-3A3,3 0 0,1 3,0Z" stroke-width="1" fill="#ff0000" stroke="#444444"/>
<path transform="translate(326.96,12.22)" d="M3,0A3,3 0 1,1 0,-3A3,3 0 0,1 3,0Z" stroke-width="1" fill="#ff0000" stroke="#444444"/>
<path transform="translate(340.48,13.71)" d="M3,0A3,3 0 1,1 0,-3A3,3 0 0,1 3,0Z" stroke-width="1" fill="#ff0000" stroke="#444444"/>
<path transform="translate(354.45,15.37)" d="M3,0A3,3 0 1,1 0,-3A3,3 0 0,1 3,0Z" stroke-width="1" fill="#ff0000" stroke="#444444"/>
<path transform="translate(368.42,12.33)" d="M3,0A3,3 0 1,1 0,-3A3,3 0 0,1 3,0Z" stroke-width="1" fill="#ff0000" stroke="#444444"/>
<path transform="translate(381.94,12.09)" d="M3,0A3,3 0 1,1 0,-3A3,3 0 0,1 3,0Z" stroke-width="1" fill="#ff0000" stroke="#444444"/>
<path transform="translate(395.91,10.07)" d="M3,0A3,3 0 1,1 0,-3A3,3 0 0,1 3,0Z" stroke-width="1" fill="#ff0000" stroke="#444444"/>
<path transform="translate(409.43,14.99)" d="M3,0A3,3 0 1,1 0,-3A3,3 0 0,1 3,0Z" stroke-width="1" fill="#ff0000" stroke="#444444"/>
<g transform="translate(0,-7)">
<text x="12.88" y="13" textLength="25.25" lengthAdjust="spacingAndGlyphs" font-size="9.99" fill="#000000">8.77%</text>
</g>
<g transform="translate(0,-7)">
<text x="26.83" y="9" textLength="25.25" lengthAdjust="spacingAndGlyphs" font-size="9.99" fill="#000000">25.0%</text>
</g>
<g transform="translate(0,-7)">
<text x="40.36" y="14" textLength="25.25" lengthAdjust="spacingAndGlyphs" font-size="9.99" fill="#000000">4.17%</text>
</g>
<g transform="translate(0,-7)">
<text x="52.88" y="17" textLength="28.14" lengthAdjust="spacingAndGlyphs" font-size="9.99" fill="#000000">-8.89%</text>
</g>
<g transform="translate(0,-7)">
<text x="67.85" y="13" textLength="25.25" lengthAdjust="spacingAndGlyphs" font-size="9.99" fill="#000000">8.12%</text>
</g>
<g transform="translate(0,-7)">
<text x="80.37" y="16" textLength="28.14" lengthAdjust="spacingAndGlyphs" font-size="9.99" fill="#000000">-6.43%</text>
</g>
<g transform="translate(0,-7)">
<text x="93.21" y="10" textLength="30.39" lengthAdjust="spacingAndGlyphs" font-size="9.99" fill="#000000">22.21%</text>
</g>
<g transform="translate(0,-7)">
<text x="105.83" y="8" textLength="30.39" lengthAdjust="spacingAndGlyphs" font-size="9.99" fill="#000000">30.38%</text>
</g>
<g transform="translate(0,-7)">
<text x="118.35" y="20" textLength="33.3" lengthAdjust="spacingAndGlyphs" font-size="9.99" fill="#000000">-24.82%</text>
</g>
<g transform="translate(0,-7)">
<text x="135.9" y="14" textLength="25.25" lengthAdjust="spacingAndGlyphs" font-size="9.99" fill="#000000">3.03%</text>
</g>
<g transform="translate(0,-7)">
<text x="147.29" y="10" textLength="30.39" lengthAdjust="spacingAndGlyphs" font-size="9.99" fill="#000000">18.74%</text>
</g>
<g transform="translate(0,-7)">
<text x="163.38" y="13" textLength="25.25" lengthAdjust="spacingAndGlyphs" font-size="9.99" fill="#000000">7.57%</text>
</g>
<g transform="translate(0,-7)">
<text x="175.9" y="17" textLength="28.14" lengthAdjust="spacingAndGlyphs" font-size="9.99" fill="#000000">-8.93%</text>
</g>
<g transform="translate(0,-7)">
<text x="191.32" y="13" textLength="25.25" lengthAdjust="spacingAndGlyphs" font-size="9.99" fill="#000000">8.87%</text>
</g>
<g transform="translate(0,-7)">
<text x="207.41" y="14" textLength="20.11" lengthAdjust="spacingAndGlyphs" font-size="9.99" fill="#000000">4.0%</text>
</g>
<g transform="translate(0,-7)">
<text x="216.23" y="10" textLength="30.39" lengthAdjust="spacingAndGlyphs" font-size="9.99" fill="#000000">21.56%</text>
</g>
<g transform="translate(0,-7)">
<text x="229.75" y="11" textLength="30.39" lengthAdjust="spacingAndGlyphs" font-size="9.99" fill="#000000">16.39%</text>
</g>
<g transform="translate(0,-7)">
<text x="246.3" y="13" textLength="25.25" lengthAdjust="spacingAndGlyphs" font-size="9.99" fill="#000000">5.78%</text>
</g>
<g transform="translate(0,-7)">
<text x="256.24" y="17" textLength="33.3" lengthAdjust="spacingAndGlyphs" font-size="9.99" fill="#000000">-12.92%</text>
</g>
<g transform="translate(0,-7)">
<text x="271.44" y="16" textLength="28.14" lengthAdjust="spacingAndGlyphs" font-size="9.99" fill="#000000">-6.36%</text>
</g>
<g transform="translate(0,-7)">
<text x="282.82" y="17" textLength="33.3" lengthAdjust="spacingAndGlyphs" font-size="9.99" fill="#000000">-10.26%</text>
</g>
<g transform="translate(0,-7)">
<text x="298.92" y="15" textLength="28.14" lengthAdjust="spacingAndGlyphs" font-size="9.99" fill="#000000">-1.57%</text>
</g>
<g transform="translate(0,-7)">
<text x="311.76" y="12" textLength="30.39" lengthAdjust="spacingAndGlyphs" font-size="9.99" fill="#000000">12.35%</text>
</g>
<g transform="translate(0,-7)">
<text x="327.86" y="13" textLength="25.25" lengthAdjust="spacingAndGlyphs" font-size="9.99" fill="#000000">5.67%</text>
</g>
<g transform="translate(0,-7)">
<text x="340.38" y="15" textLength="28.14" lengthAdjust="spacingAndGlyphs" font-size="9.99" fill="#000000">-1.76%</text>
</g>
<g transform="translate(0,-7)">
<text x="353.22" y="12" textLength="30.39" lengthAdjust="spacingAndGlyphs" font-size="9.99" fill="#000000">11.84%</text>
</g>
<g transform="translate(0,-7)">
<text x="366.74" y="12" textLength="30.39" lengthAdjust="spacingAndGlyphs" font-size="9.99" fill="#000000">12.91%</text>
</g>
<g transform="translate(0,-7)">
<text x="380.71" y="10" textLength="30.39" lengthAdjust="spacingAndGlyphs" font-size="9.99" fill="#000000">21.96%</text>
</g>
<g transform="translate(0,-7)">
<text x="395.36" y="15" textLength="28.14" lengthAdjust="spacingAndGlyphs" font-size="9.99" fill="#000000">-0.04%</text>
</g>
</g>
<g transform="translate(-2.5,0.5)">
<rect x="0" width="4" rx="1" fill="#fff" stroke="#444" stroke-width="1" shape-rendering="crispEdges" y="6" height="11"/>
</g>
<g transform="translate(433.5,0.5)">
<rect x="0" width="4" rx="1" fill="#fff" stroke="#444" stroke-width="1" shape-rendering="crispEdges" y="6" height="11"/>
</g>
</g>
<text x="281.46" y="392" textLength="32.08" lengthAdjust="spacingAndGlyphs" font-size="14.53" fill="#2a3f5f">Time</text>
</svg>
</body>
</html>
